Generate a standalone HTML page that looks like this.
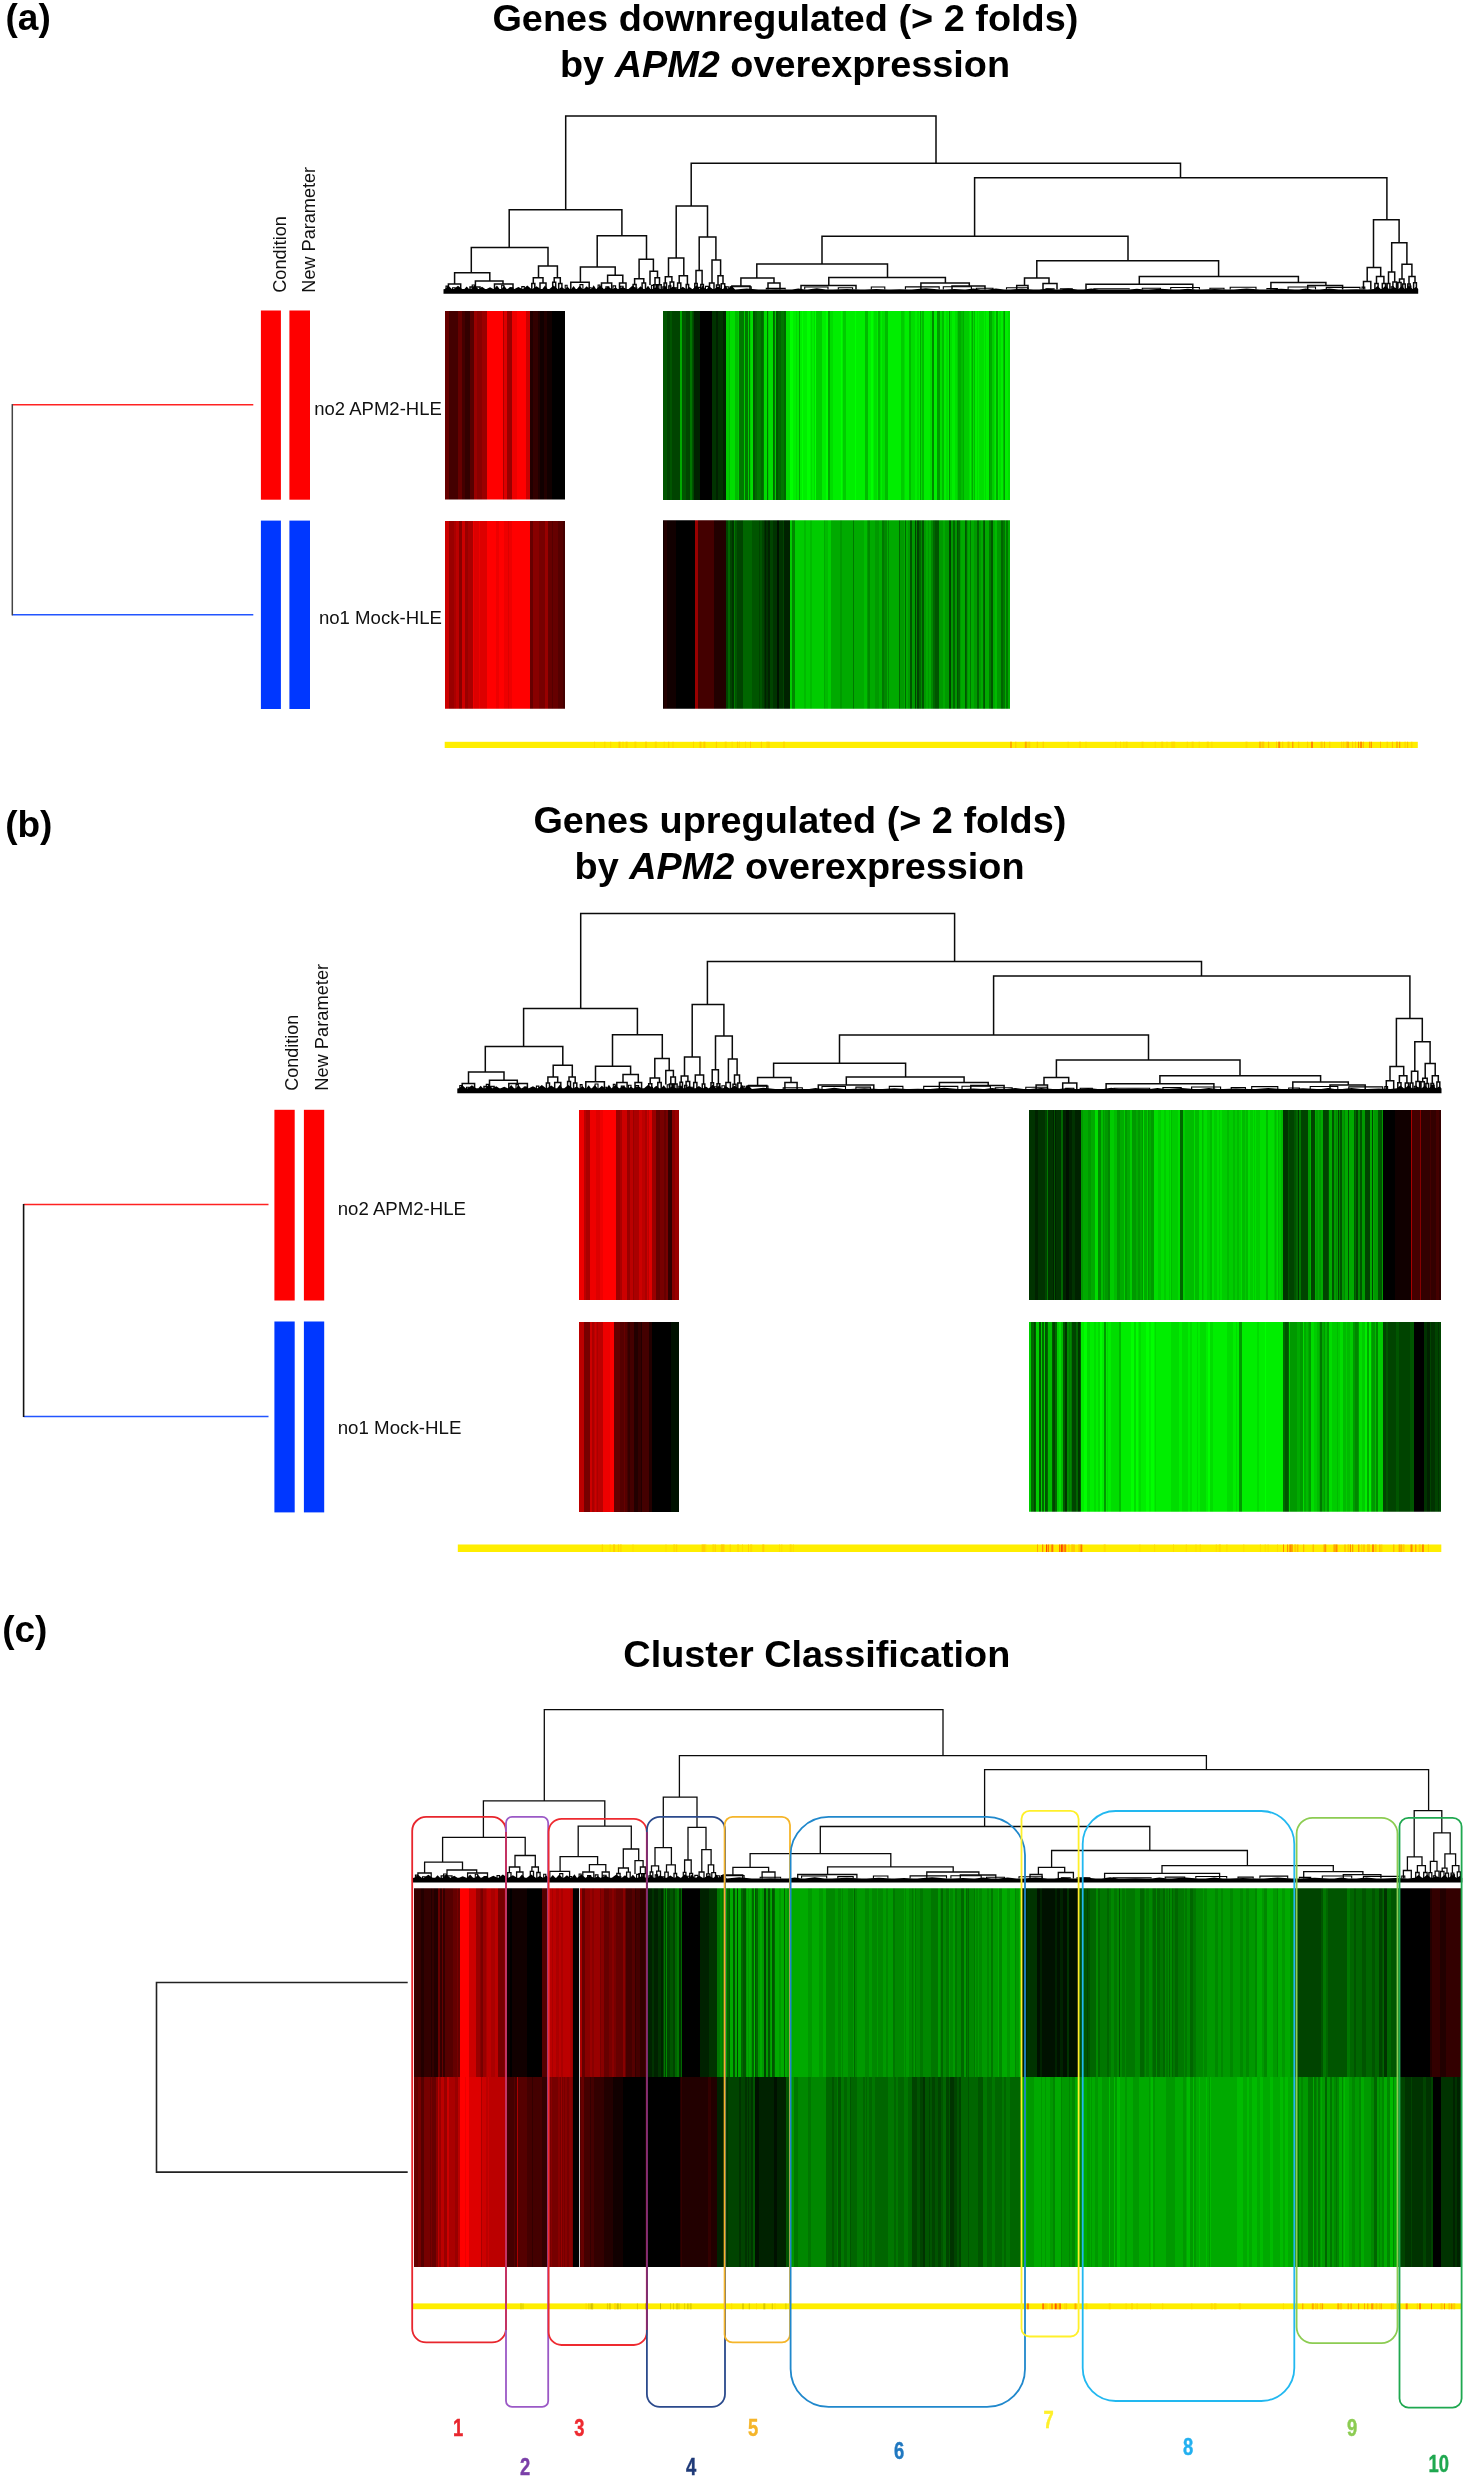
<!DOCTYPE html><html><head><meta charset="utf-8"><title>Figure</title><style>html,body{margin:0;padding:0;background:#fff}svg{display:block}#fig{filter:blur(0.45px)}text{font-family:"Liberation Sans",sans-serif}</style></head><body>
<svg id="fig" width="1466" height="2479" viewBox="0 0 1466 2479">
<rect width="1466" height="2479" fill="#fff"/>
<text x="785.4" y="31.0" font-size="37" font-weight="700" text-anchor="middle" fill="#000" textLength="586.0" lengthAdjust="spacingAndGlyphs">Genes downregulated (&gt; 2 folds)</text>
<text x="785.0" y="76.5" font-size="37" font-weight="700" text-anchor="middle" fill="#000" textLength="450.0" lengthAdjust="spacingAndGlyphs">by <tspan font-style="italic">APM2</tspan> overexpression</text>
<text x="799.9" y="833.0" font-size="37" font-weight="700" text-anchor="middle" fill="#000" textLength="533.0" lengthAdjust="spacingAndGlyphs">Genes upregulated (&gt; 2 folds)</text>
<text x="799.6" y="879.0" font-size="37" font-weight="700" text-anchor="middle" fill="#000" textLength="450.0" lengthAdjust="spacingAndGlyphs">by <tspan font-style="italic">APM2</tspan> overexpression</text>
<text x="816.8" y="1667.3" font-size="37" font-weight="700" text-anchor="middle" fill="#000" textLength="387.0" lengthAdjust="spacingAndGlyphs">Cluster Classification</text>
<text x="5.5" y="29.9" font-size="37" font-weight="700" fill="#000">(a)</text>
<text x="5.2" y="837.4" font-size="37" font-weight="700" fill="#000">(b)</text>
<text x="2.2" y="1641.6" font-size="37" font-weight="700" fill="#000">(c)</text>
<path d="M565.7 209.8V116.0H936.0V163.3M509.2 247.4V209.8H621.9V235.8M471.3 272.8V247.4H548.0V266.0M454.6 284.0V272.8H489.8V280.9M448.4 289.5V284.0H460.7V289.5M475.4 287.0V280.9H503.0V284.0M494.5 289.5V284.0H513.0V289.5M470.0 289.5V287.0H480.0V289.5M538.5 277.8V266.0H557.4V277.8M533.3 283.6V277.8H543.0V283.0M540.0 289.5V283.0H546.0V289.5M554.2 282.2V277.8H560.3V283.5M597.2 267.1V235.8H646.5V259.3M580.4 282.3V267.1H615.2V275.3M570.8 289.5V282.3H589.2V289.5M607.6 283.0V275.3H622.8V283.0M601.5 289.5V283.0H611.7V289.5M619.5 289.5V283.0H626.0V289.5M639.1 278.8V259.3H653.4V271.2M634.6 284.4V278.8H643.8V283.1M650.0 285.0V271.2H657.5V277.8M655.0 284.7V277.8H659.5V284.7M691.2 206.0V163.3H1180.5V177.8M676.2 258.0V206.0H707.5V237.0M668.5 276.7V258.0H683.8V275.7M665.3 282.9V276.7H671.9V282.1M679.2 283.0V275.7H687.4V284.5M699.2 270.6V237.0H715.9V260.0M696.0 283.4V270.6H702.1V284.4M712.0 283.0V260.0H720.6V275.7M718.0 284.9V275.7H723.0V283.7M709.5 289.5V283.0H714.0V289.5M974.6 236.2V177.8H1386.9V219.8M822.0 264.0V236.2H1128.0V260.8M756.8 278.1V264.0H887.5V277.6M740.9 286.0V278.1H774.0V283.0M732.0 289.5V286.0H750.0V289.5M768.0 289.5V283.0H780.0V289.5M828.8 285.5V277.6H945.4V283.0M801.0 289.5V285.5H856.0V289.5M920.9 289.5V283.0H969.3V286.0M952.0 289.5V286.0H985.0V289.5M1036.8 278.1V260.8H1218.6V276.5M1024.5 285.5V278.1H1049.0V283.5M1016.7 289.5V285.5H1028.0V289.5M1043.0 289.5V283.5H1057.0V289.5M1139.3 284.3V276.5H1298.4V282.6M1086.0 289.5V284.3H1192.8V289.5M1270.9 289.5V282.6H1325.9V285.6M1307.7 289.5V285.6H1342.6V289.5M1373.5 267.4V219.8H1399.1V242.8M1367.2 281.4V267.4H1380.7V276.5M1363.5 289.5V281.4H1370.8V289.5M1376.5 283.4V276.5H1383.9V283.5M1391.7 272.0V242.8H1406.9V264.2M1388.5 283.6V272.0H1394.7V282.0M1402.0 279.0V264.2H1411.9V276.5M1399.5 282.5V279.0H1404.0V284.1M1409.0 284.1V276.5H1415.0V282.7M531.8 289.5V283.6H534.8V289.5M552.7 289.5V282.2H555.7V289.5M558.7 289.5V283.5H561.9V289.5M633.1 289.5V284.4H636.1V289.5M642.1 289.5V283.1H645.5V289.5M653.6 289.5V284.7H656.4V289.5M657.8 289.5V284.7H661.2V289.5M664.1 289.5V282.9H666.5V289.5M670.1 289.5V282.1H673.7V289.5M677.6 289.5V283.0H680.8V289.5M686.2 289.5V284.5H688.6V289.5M694.8 289.5V283.4H697.2V289.5M700.8 289.5V284.4H703.4V289.5M716.5 289.5V284.9H719.5V289.5M721.3 289.5V283.7H724.7V289.5M1374.9 289.5V283.4H1378.1V289.5M1382.3 289.5V283.5H1385.5V289.5M1387.1 289.5V283.6H1389.9V289.5M1392.9 289.5V282.0H1396.5V289.5M1397.9 289.5V282.5H1401.1V289.5M1402.7 289.5V284.1H1405.3V289.5M1407.8 289.5V284.1H1410.2V289.5M1413.6 289.5V282.7H1416.4V289.5" fill="none" stroke="#0a0a0a" stroke-width="1.50" stroke-linejoin="miter"/>
<path d="M446.0 289.5V286.1H448.1V289.5M452.6 289.5V287.8H455.2V289.5M472.2 289.5V285.0H474.8V289.5M501.7 289.5V285.2H503.9V289.5M509.9 289.5V287.7H512.7V289.5M521.8 289.5V286.6H524.3V289.5M565.2 289.5V285.2H567.1V289.5M580.0 289.5V284.6H582.9V289.5M589.1 289.5V287.7H591.2V289.5M598.1 289.5V285.0H599.9V289.5M605.9 289.5V286.7H608.8V289.5M613.0 289.5V285.9H615.6V289.5M620.2 289.5V286.2H623.1V289.5M634.4 289.5V288.0H636.9V289.5M651.4 289.5V285.4H654.1V289.5M656.3 289.5V284.6H658.9V289.5M662.8 289.5V286.9H665.4V289.5M668.7 289.5V285.9H670.9V289.5M674.5 289.5V287.9H677.2V289.5M698.0 289.5V287.4H700.8V289.5M705.5 289.5V286.4H708.4V289.5M725.6 289.5V286.8H728.3V289.5M1362.0 289.5V287.1H1364.8V289.5M1391.2 289.5V286.8H1393.4V289.5M1408.0 289.5V286.0H1410.9V289.5M730.0 289.5V286.7H751.2V289.5M766.3 289.5V288.4H785.2V289.5M804.7 289.5V287.0H828.0V289.5M838.3 289.5V287.7H852.6V289.5M871.3 289.5V287.0H884.8V289.5M905.4 289.5V286.9H939.2V289.5M943.3 289.5V286.8H971.4V289.5M976.3 289.5V288.3H993.0V289.5M1006.5 289.5V287.8H1028.0V289.5M1046.0 289.5V288.9H1054.1V289.5M1060.4 289.5V288.8H1072.3V289.5M1093.9 289.5V288.8H1129.2V289.5M1142.3 289.5V288.2H1160.4V289.5M1170.7 289.5V287.5H1199.4V289.5M1209.9 289.5V288.2H1224.0V289.5M1230.2 289.5V287.2H1256.0V289.5M1266.9 289.5V288.6H1277.4V289.5M1288.1 289.5V287.0H1315.5V289.5M1326.3 289.5V287.4H1360.0V289.5" fill="none" stroke="#000" stroke-width="1.1"/>
<polygon points="443.5,289.2 445.0,288.9 448.4,285.8 451.9,288.9 453.9,288.9 458.0,285.8 462.1,288.9 464.4,288.9 466.7,286.4 469.0,288.9 471.3,288.9 474.8,285.5 478.3,288.9 478.9,288.9 482.0,286.8 485.2,288.9 486.6,288.9 490.0,287.3 493.3,288.9 494.1,288.9 496.9,285.5 499.6,288.9 501.6,288.9 504.1,285.7 506.7,288.9 507.3,288.9 510.7,287.0 514.1,288.9 514.4,288.9 518.4,286.9 522.3,288.9 523.1,288.9 527.3,285.6 531.4,288.9 532.4,288.9 536.5,286.2 540.6,288.9 542.4,288.9 545.0,285.4 547.6,288.9 549.4,288.9 553.6,285.5 557.7,288.9 558.7,288.9 561.6,287.0 564.5,288.9 565.1,288.9 567.5,286.7 569.8,288.9 571.4,288.9 573.6,285.9 575.8,288.9 576.9,288.9 579.7,285.7 582.5,288.9 583.9,288.9 586.7,286.3 589.5,288.9 591.4,288.9 593.7,285.3 596.0,288.9 596.4,288.9 600.1,285.6 603.8,288.9 604.1,288.9 607.9,286.6 611.7,288.9 613.2,288.9 615.4,287.2 617.7,288.9 618.4,288.9 622.5,286.9 626.6,288.9 628.5,288.9 632.6,285.4 636.7,288.9 637.7,288.9 640.6,286.3 643.5,288.9 645.5,288.9 648.0,285.8 650.4,288.9 652.4,288.9 656.4,287.2 660.3,288.9 662.7,288.9 665.0,286.6 667.4,288.9 669.1,288.9 673.1,286.6 677.1,288.9 679.5,288.9 682.8,286.7 686.0,288.9 687.0,288.9 689.6,287.1 692.2,288.9 692.8,288.9 696.4,285.3 699.9,288.9 700.6,288.9 702.9,285.3 705.2,288.9 706.7,288.9 709.7,286.8 712.7,288.9 714.3,288.9 718.1,286.4 722.0,288.9 723.2,288.9 725.5,285.5 727.8,288.9 728.2,288.9 731.4,285.6 734.6,288.9 735.2,289.6 746.8,288.4 758.4,289.6 763.8,289.6 775.9,289.3 787.9,289.6 792.0,289.6 798.3,288.5 804.7,289.6 807.7,289.6 816.8,288.3 825.9,289.6 832.9,289.6 846.6,288.9 860.4,289.6 864.8,289.6 876.4,288.9 888.0,289.6 891.0,289.6 899.7,289.2 908.3,289.6 911.9,289.6 925.8,288.3 939.7,289.6 945.1,289.6 954.6,289.0 964.1,289.6 965.7,289.6 973.2,288.5 980.6,289.6 987.7,289.6 995.9,288.5 1004.2,289.6 1010.6,289.6 1021.9,288.7 1033.1,289.6 1039.4,289.6 1047.7,288.6 1056.0,289.6 1058.9,289.6 1068.3,288.6 1077.7,289.6 1083.5,289.6 1091.2,288.4 1098.8,289.6 1104.4,289.6 1114.6,289.4 1124.8,289.6 1129.6,289.6 1136.9,288.7 1144.2,289.6 1148.4,289.6 1160.7,288.7 1173.1,289.6 1179.7,289.6 1187.8,288.7 1195.9,289.6 1202.1,289.6 1214.6,289.0 1227.0,289.6 1233.9,289.6 1246.7,288.6 1259.6,289.6 1267.4,289.6 1281.0,288.8 1294.6,289.6 1299.3,289.6 1305.8,288.5 1312.3,289.6 1319.9,289.6 1329.2,288.6 1338.5,289.6 1344.5,289.6 1356.1,289.2 1367.7,289.6 1374.1,288.9 1377.5,286.0 1380.8,288.9 1382.1,288.9 1385.5,285.8 1389.0,288.9 1390.7,288.9 1394.3,287.2 1397.9,288.9 1398.6,288.9 1401.7,286.0 1404.8,288.9 1405.5,288.9 1409.1,286.0 1412.7,288.9 1413.1,288.9 1416.2,286.8 1418.2,289.0 1418.2,293.8 443.5,293.8" fill="#000"/>
<rect x="260.9" y="310.5" width="20.0" height="189.2" fill="#fe0000"/>
<rect x="260.9" y="520.6" width="20.0" height="188.4" fill="#0037ff"/>
<rect x="289.4" y="310.5" width="20.6" height="189.2" fill="#fe0000"/>
<rect x="289.4" y="520.6" width="20.6" height="188.4" fill="#0037ff"/>
<path d="M253.3 404.7H12.3" stroke="#f22" stroke-width="1.5" fill="none"/>
<path d="M253.3 614.8H12.3" stroke="#2255ff" stroke-width="1.5" fill="none"/>
<path d="M12.3 404.1V615.4" stroke="#444" stroke-width="1.5" fill="none"/>
<text transform="translate(286.2 292.7) rotate(-90)" font-size="18" fill="#111" textLength="76.5" lengthAdjust="spacingAndGlyphs">Condition</text>
<text transform="translate(314.5 292.7) rotate(-90)" font-size="18" fill="#111" textLength="125.8" lengthAdjust="spacingAndGlyphs">New Parameter</text>
<text x="314.3" y="415.2" font-size="18" fill="#111" textLength="127.5" lengthAdjust="spacingAndGlyphs">no2 APM2-HLE</text>
<text x="318.9" y="624.0" font-size="18" fill="#111" textLength="123.0" lengthAdjust="spacingAndGlyphs">no1 Mock-HLE</text>
<svg x="445" y="310.5" width="120" height="189.1" viewBox="0 0 120 1" preserveAspectRatio="none" shape-rendering="crispEdges">
<path fill="#600" d="M0 0h2v1h-2zM2 0h2v1h-2zM13 0h2v1h-2zM15 0h2v1h-2z"/>
<path fill="#400" d="M4 0h2v1h-2zM6 0h1v1h-1zM7 0h3v1h-3zM10 0h2v1h-2zM12 0h1v1h-1zM17 0h3v1h-3z"/>
<path fill="#300" d="M20 0h3v1h-3zM23 0h1v1h-1zM24 0h1v1h-1zM88 0h2v1h-2zM90 0h1v1h-1zM91 0h2v1h-2z"/>
<path fill="#500" d="M25 0h2v1h-2zM27 0h2v1h-2z"/>
<path fill="#900" d="M29 0h1v1h-1zM30 0h2v1h-2zM37 0h2v1h-2zM39 0h3v1h-3zM62 0h3v1h-3zM65 0h2v1h-2z"/>
<path fill="#800" d="M32 0h1v1h-1zM33 0h2v1h-2zM35 0h2v1h-2z"/>
<path fill="#f00" d="M42 0h4v1h-4zM46 0h4v1h-4zM50 0h3v1h-3zM53 0h2v1h-2zM55 0h2v1h-2zM57 0h1v1h-1zM72 0h2v1h-2zM74 0h1v1h-1zM75 0h2v1h-2zM77 0h2v1h-2zM79 0h1v1h-1zM80 0h1v1h-1z"/>
<path fill="#a00" d="M58 0h1v1h-1z"/>
<path fill="#d00" d="M59 0h2v1h-2zM61 0h1v1h-1z"/>
<path fill="#e00" d="M67 0h1v1h-1zM68 0h3v1h-3zM71 0h1v1h-1z"/>
<path fill="#c00" d="M81 0h1v1h-1zM82 0h1v1h-1zM83 0h1v1h-1zM84 0h1v1h-1z"/>
<path fill="#200" d="M85 0h1v1h-1zM86 0h2v1h-2zM93 0h2v1h-2zM99 0h3v1h-3z"/>
<path fill="#100" d="M95 0h3v1h-3zM98 0h1v1h-1zM102 0h1v1h-1zM103 0h2v1h-2zM105 0h2v1h-2z"/>
<path fill="#000" d="M107 0h2v1h-2zM109 0h3v1h-3zM112 0h2v1h-2zM114 0h1v1h-1zM115 0h3v1h-3zM118 0h2v1h-2z"/>
</svg>
<svg x="445" y="520.5" width="120" height="188.3" viewBox="0 0 120 1" preserveAspectRatio="none" shape-rendering="crispEdges">
<path fill="#c00" d="M0 0h2v1h-2zM2 0h2v1h-2zM17 0h1v1h-1zM18 0h2v1h-2z"/>
<path fill="#900" d="M4 0h3v1h-3zM7 0h2v1h-2zM20 0h3v1h-3zM100 0h2v1h-2zM102 0h1v1h-1z"/>
<path fill="#a00" d="M9 0h2v1h-2zM23 0h1v1h-1zM24 0h3v1h-3zM27 0h1v1h-1z"/>
<path fill="#b00" d="M11 0h3v1h-3z"/>
<path fill="#800" d="M14 0h1v1h-1zM15 0h2v1h-2zM88 0h2v1h-2zM90 0h1v1h-1zM91 0h3v1h-3z"/>
<path fill="#e00" d="M28 0h1v1h-1zM34 0h1v1h-1zM51 0h3v1h-3zM59 0h2v1h-2zM61 0h1v1h-1zM62 0h1v1h-1zM64 0h2v1h-2zM66 0h1v1h-1z"/>
<path fill="#d00" d="M29 0h3v1h-3zM32 0h2v1h-2zM35 0h3v1h-3zM38 0h1v1h-1zM39 0h1v1h-1zM40 0h2v1h-2zM63 0h1v1h-1z"/>
<path fill="#f00" d="M42 0h4v1h-4zM46 0h2v1h-2zM48 0h3v1h-3zM54 0h3v1h-3zM57 0h2v1h-2zM67 0h3v1h-3zM70 0h3v1h-3zM73 0h3v1h-3zM76 0h2v1h-2zM78 0h4v1h-4zM82 0h3v1h-3z"/>
<path fill="#600" d="M85 0h3v1h-3zM103 0h3v1h-3zM106 0h1v1h-1zM108 0h3v1h-3zM111 0h1v1h-1zM112 0h1v1h-1z"/>
<path fill="#700" d="M94 0h1v1h-1zM95 0h2v1h-2zM97 0h3v1h-3z"/>
<path fill="#500" d="M107 0h1v1h-1zM113 0h1v1h-1zM114 0h1v1h-1zM115 0h1v1h-1zM116 0h2v1h-2z"/>
<path fill="#400" d="M118 0h2v1h-2z"/>
</svg>
<svg x="663" y="310.5" width="347" height="189.4" viewBox="0 0 347 1" preserveAspectRatio="none" shape-rendering="crispEdges">
<path fill="#050" d="M0 0h2v1h-2zM2 0h2v1h-2zM7 0h2v1h-2zM19 0h2v1h-2zM21 0h2v1h-2zM29 0h1v1h-1zM90 0h2v1h-2zM113 0h2v1h-2z"/>
<path fill="#040" d="M4 0h1v1h-1zM5 0h1v1h-1zM6 0h1v1h-1zM9 0h1v1h-1zM10 0h1v1h-1zM11 0h2v1h-2zM13 0h1v1h-1zM14 0h1v1h-1zM15 0h2v1h-2zM23 0h1v1h-1zM24 0h1v1h-1zM25 0h2v1h-2zM30 0h1v1h-1z"/>
<path fill="#0a0" d="M17 0h2v1h-2zM136 0h1v1h-1zM165 0h2v1h-2zM257 0h1v1h-1zM295 0h3v1h-3zM300 0h1v1h-1zM309 0h1v1h-1zM327 0h2v1h-2zM333 0h2v1h-2z"/>
<path fill="#070" d="M27 0h2v1h-2zM76 0h3v1h-3zM79 0h2v1h-2zM82 0h3v1h-3zM86 0h1v1h-1zM94 0h1v1h-1zM95 0h3v1h-3zM100 0h1v1h-1zM104 0h1v1h-1zM111 0h1v1h-1zM118 0h3v1h-3z"/>
<path fill="#020" d="M31 0h3v1h-3zM34 0h2v1h-2zM36 0h1v1h-1zM53 0h2v1h-2zM60 0h1v1h-1zM61 0h1v1h-1zM62 0h1v1h-1z"/>
<path fill="#000" d="M37 0h1v1h-1zM38 0h3v1h-3zM41 0h2v1h-2zM43 0h1v1h-1zM44 0h1v1h-1zM45 0h1v1h-1zM46 0h2v1h-2zM48 0h1v1h-1z"/>
<path fill="#030" d="M49 0h2v1h-2zM51 0h2v1h-2zM55 0h2v1h-2zM57 0h3v1h-3z"/>
<path fill="#0c0" d="M63 0h3v1h-3zM75 0h1v1h-1zM81 0h1v1h-1zM85 0h1v1h-1zM87 0h1v1h-1zM105 0h1v1h-1zM112 0h1v1h-1zM153 0h3v1h-3zM156 0h3v1h-3zM180 0h3v1h-3zM238 0h3v1h-3zM294 0h1v1h-1zM301 0h3v1h-3zM304 0h2v1h-2zM308 0h1v1h-1zM329 0h2v1h-2z"/>
<path fill="#0b0" d="M66 0h1v1h-1zM72 0h3v1h-3zM202 0h3v1h-3zM215 0h2v1h-2zM222 0h3v1h-3zM246 0h2v1h-2zM259 0h2v1h-2zM279 0h2v1h-2zM298 0h1v1h-1zM299 0h1v1h-1zM311 0h1v1h-1zM340 0h1v1h-1z"/>
<path fill="#0d0" d="M67 0h3v1h-3zM70 0h2v1h-2zM88 0h2v1h-2zM101 0h3v1h-3zM106 0h3v1h-3zM109 0h1v1h-1zM123 0h3v1h-3zM126 0h1v1h-1zM133 0h1v1h-1zM148 0h1v1h-1zM151 0h1v1h-1zM167 0h3v1h-3zM211 0h3v1h-3zM217 0h1v1h-1zM219 0h3v1h-3zM241 0h1v1h-1zM248 0h2v1h-2zM250 0h2v1h-2zM254 0h2v1h-2zM258 0h1v1h-1zM267 0h2v1h-2zM277 0h2v1h-2zM283 0h2v1h-2zM287 0h2v1h-2zM292 0h2v1h-2zM306 0h1v1h-1zM310 0h1v1h-1zM314 0h1v1h-1zM316 0h1v1h-1zM317 0h1v1h-1zM318 0h2v1h-2zM320 0h1v1h-1zM322 0h1v1h-1zM331 0h1v1h-1zM336 0h2v1h-2zM345 0h1v1h-1zM346 0h1v1h-1z"/>
<path fill="#060" d="M92 0h2v1h-2zM98 0h1v1h-1zM99 0h1v1h-1zM110 0h1v1h-1zM115 0h3v1h-3zM121 0h1v1h-1zM122 0h1v1h-1z"/>
<path fill="#0f0" d="M127 0h3v1h-3zM139 0h1v1h-1zM144 0h3v1h-3zM152 0h1v1h-1zM163 0h2v1h-2zM178 0h1v1h-1zM192 0h1v1h-1zM208 0h2v1h-2z"/>
<path fill="#0e0" d="M130 0h3v1h-3zM134 0h2v1h-2zM137 0h2v1h-2zM140 0h2v1h-2zM142 0h2v1h-2zM147 0h1v1h-1zM149 0h2v1h-2zM159 0h3v1h-3zM162 0h1v1h-1zM170 0h2v1h-2zM172 0h3v1h-3zM175 0h3v1h-3zM179 0h1v1h-1zM183 0h1v1h-1zM184 0h1v1h-1zM185 0h3v1h-3zM188 0h2v1h-2zM190 0h2v1h-2zM193 0h2v1h-2zM195 0h1v1h-1zM196 0h1v1h-1zM197 0h2v1h-2zM199 0h3v1h-3zM205 0h1v1h-1zM206 0h2v1h-2zM210 0h1v1h-1zM214 0h1v1h-1zM218 0h1v1h-1zM225 0h3v1h-3zM228 0h3v1h-3zM231 0h2v1h-2zM233 0h2v1h-2zM235 0h3v1h-3zM242 0h2v1h-2zM244 0h2v1h-2zM252 0h1v1h-1zM253 0h1v1h-1zM256 0h1v1h-1zM261 0h1v1h-1zM262 0h2v1h-2zM264 0h1v1h-1zM265 0h2v1h-2zM271 0h1v1h-1zM272 0h2v1h-2zM281 0h2v1h-2zM285 0h1v1h-1zM289 0h1v1h-1zM290 0h2v1h-2zM307 0h1v1h-1zM312 0h2v1h-2zM315 0h1v1h-1zM321 0h1v1h-1zM323 0h2v1h-2zM325 0h1v1h-1zM332 0h1v1h-1zM335 0h1v1h-1zM338 0h2v1h-2zM342 0h2v1h-2zM344 0h1v1h-1z"/>
<path fill="#080" d="M269 0h2v1h-2z"/>
<path fill="#090" d="M274 0h1v1h-1zM275 0h2v1h-2zM286 0h1v1h-1zM326 0h1v1h-1zM341 0h1v1h-1z"/>
</svg>
<svg x="663" y="520.3" width="347" height="188.5" viewBox="0 0 347 1" preserveAspectRatio="none" shape-rendering="crispEdges">
<path fill="#100" d="M0 0h1v1h-1zM4 0h2v1h-2zM6 0h2v1h-2zM8 0h1v1h-1zM9 0h2v1h-2zM11 0h2v1h-2z"/>
<path fill="#200" d="M1 0h3v1h-3zM51 0h1v1h-1zM52 0h2v1h-2zM54 0h1v1h-1zM55 0h1v1h-1zM56 0h2v1h-2zM58 0h1v1h-1zM59 0h2v1h-2zM61 0h1v1h-1zM62 0h1v1h-1z"/>
<path fill="#000" d="M13 0h3v1h-3zM16 0h3v1h-3zM19 0h3v1h-3zM22 0h2v1h-2zM24 0h1v1h-1zM25 0h1v1h-1zM26 0h3v1h-3zM29 0h1v1h-1zM30 0h1v1h-1zM31 0h1v1h-1z"/>
<path fill="#900" d="M32 0h2v1h-2zM34 0h1v1h-1z"/>
<path fill="#400" d="M35 0h1v1h-1zM36 0h2v1h-2zM38 0h2v1h-2zM40 0h1v1h-1zM41 0h2v1h-2zM43 0h3v1h-3zM46 0h3v1h-3zM49 0h2v1h-2z"/>
<path fill="#040" d="M63 0h2v1h-2zM67 0h2v1h-2zM74 0h2v1h-2zM76 0h1v1h-1zM77 0h3v1h-3zM96 0h1v1h-1zM99 0h1v1h-1zM100 0h1v1h-1zM107 0h3v1h-3zM120 0h1v1h-1zM252 0h1v1h-1zM254 0h2v1h-2zM286 0h2v1h-2z"/>
<path fill="#060" d="M65 0h2v1h-2zM80 0h3v1h-3zM83 0h3v1h-3zM86 0h3v1h-3zM236 0h1v1h-1zM242 0h1v1h-1zM256 0h2v1h-2zM270 0h2v1h-2zM290 0h2v1h-2zM295 0h1v1h-1zM296 0h1v1h-1zM303 0h1v1h-1zM314 0h2v1h-2zM320 0h1v1h-1zM338 0h2v1h-2z"/>
<path fill="#030" d="M69 0h2v1h-2zM101 0h1v1h-1zM103 0h2v1h-2zM110 0h3v1h-3zM113 0h1v1h-1zM116 0h3v1h-3zM119 0h1v1h-1z"/>
<path fill="#070" d="M71 0h1v1h-1zM190 0h1v1h-1zM219 0h2v1h-2zM307 0h1v1h-1zM326 0h2v1h-2zM340 0h2v1h-2zM343 0h2v1h-2z"/>
<path fill="#050" d="M72 0h2v1h-2zM89 0h1v1h-1zM90 0h2v1h-2zM92 0h2v1h-2zM94 0h2v1h-2zM97 0h2v1h-2zM247 0h2v1h-2zM259 0h2v1h-2zM272 0h1v1h-1zM273 0h1v1h-1zM274 0h2v1h-2zM294 0h1v1h-1zM302 0h1v1h-1zM321 0h1v1h-1zM328 0h2v1h-2z"/>
<path fill="#020" d="M102 0h1v1h-1zM105 0h1v1h-1zM106 0h1v1h-1zM121 0h1v1h-1zM122 0h2v1h-2zM124 0h3v1h-3z"/>
<path fill="#010" d="M114 0h2v1h-2z"/>
<path fill="#0c0" d="M127 0h2v1h-2zM132 0h2v1h-2zM134 0h1v1h-1zM135 0h3v1h-3zM138 0h1v1h-1zM139 0h2v1h-2zM143 0h3v1h-3zM146 0h1v1h-1zM149 0h2v1h-2zM151 0h3v1h-3zM154 0h2v1h-2zM156 0h2v1h-2zM158 0h2v1h-2zM160 0h1v1h-1zM165 0h3v1h-3z"/>
<path fill="#080" d="M129 0h3v1h-3zM205 0h2v1h-2zM221 0h3v1h-3zM225 0h1v1h-1zM253 0h1v1h-1zM258 0h1v1h-1zM268 0h2v1h-2z"/>
<path fill="#0b0" d="M141 0h2v1h-2zM147 0h2v1h-2zM162 0h3v1h-3zM201 0h3v1h-3zM332 0h2v1h-2z"/>
<path fill="#0a0" d="M161 0h1v1h-1zM168 0h2v1h-2zM170 0h1v1h-1zM171 0h1v1h-1zM172 0h1v1h-1zM173 0h2v1h-2zM175 0h2v1h-2zM179 0h2v1h-2zM181 0h2v1h-2zM183 0h1v1h-1zM184 0h3v1h-3zM187 0h2v1h-2zM189 0h1v1h-1zM191 0h3v1h-3zM194 0h2v1h-2zM196 0h2v1h-2zM198 0h3v1h-3zM207 0h1v1h-1zM208 0h2v1h-2zM210 0h2v1h-2zM216 0h3v1h-3zM224 0h1v1h-1zM226 0h2v1h-2zM228 0h3v1h-3zM231 0h2v1h-2zM233 0h2v1h-2zM235 0h1v1h-1zM241 0h1v1h-1zM243 0h2v1h-2zM263 0h2v1h-2zM266 0h2v1h-2zM280 0h2v1h-2zM298 0h1v1h-1zM299 0h2v1h-2zM301 0h1v1h-1zM305 0h2v1h-2zM308 0h2v1h-2zM310 0h1v1h-1zM318 0h2v1h-2zM322 0h1v1h-1zM323 0h1v1h-1zM324 0h2v1h-2zM330 0h2v1h-2zM342 0h1v1h-1zM345 0h2v1h-2z"/>
<path fill="#090" d="M177 0h2v1h-2zM204 0h1v1h-1zM212 0h3v1h-3zM215 0h1v1h-1zM237 0h2v1h-2zM239 0h2v1h-2zM245 0h2v1h-2zM249 0h1v1h-1zM250 0h2v1h-2zM261 0h1v1h-1zM262 0h1v1h-1zM265 0h1v1h-1zM276 0h2v1h-2zM278 0h1v1h-1zM279 0h1v1h-1zM282 0h2v1h-2zM284 0h2v1h-2zM288 0h2v1h-2zM292 0h1v1h-1zM293 0h1v1h-1zM297 0h1v1h-1zM304 0h1v1h-1zM311 0h2v1h-2zM313 0h1v1h-1zM316 0h2v1h-2zM334 0h2v1h-2zM336 0h2v1h-2z"/>
</svg>
<rect x="444.7" y="741.8" width="973.1" height="6.2" fill="#ffee00"/>
<path fill="#ffdd00" d="M594.0 741.8h1v6.2h-1zM634.4 741.8h2v6.2h-2zM654.8 741.8h2v6.2h-2zM663.7 741.8h1v6.2h-1zM724.7 741.8h2v6.2h-2zM731.6 741.8h1v6.2h-1zM745.0 741.8h1v6.2h-1zM766.4 741.8h2v6.2h-2zM783.0 741.8h2v6.2h-2zM1067.6 741.8h1v6.2h-1zM1079.0 741.8h2v6.2h-2zM1085.5 741.8h1v6.2h-1zM1115.3 741.8h1v6.2h-1zM1120.0 741.8h1v6.2h-1zM1123.4 741.8h1v6.2h-1zM1125.6 741.8h2v6.2h-2zM1141.5 741.8h2v6.2h-2zM1154.7 741.8h1v6.2h-1zM1161.2 741.8h2v6.2h-2zM1166.5 741.8h1v6.2h-1zM1171.2 741.8h2v6.2h-2zM1173.2 741.8h2v6.2h-2zM1186.8 741.8h1v6.2h-1zM1191.6 741.8h2v6.2h-2zM1198.7 741.8h1v6.2h-1zM1206.8 741.8h2v6.2h-2zM1211.4 741.8h1v6.2h-1zM1245.5 741.8h2v6.2h-2z"/>
<path fill="#ffd800" d="M604.3 741.8h1v6.2h-1zM610.2 741.8h1v6.2h-1zM622.5 741.8h1v6.2h-1zM625.6 741.8h2v6.2h-2zM645.0 741.8h2v6.2h-2zM672.5 741.8h1v6.2h-1zM693.0 741.8h1v6.2h-1zM738.9 741.8h1v6.2h-1z"/>
<path fill="#ffcc00" d="M618.5 741.8h2v6.2h-2zM668.2 741.8h1v6.2h-1zM699.5 741.8h2v6.2h-2zM703.4 741.8h2v6.2h-2zM715.9 741.8h1v6.2h-1zM737.1 741.8h1v6.2h-1zM750.0 741.8h1v6.2h-1zM760.9 741.8h1v6.2h-1zM768.5 741.8h1v6.2h-1zM1015.3 741.8h1v6.2h-1zM1027.6 741.8h1v6.2h-1zM1029.2 741.8h1v6.2h-1zM1036.8 741.8h1v6.2h-1zM1042.7 741.8h1v6.2h-1zM1261.4 741.8h2v6.2h-2zM1263.3 741.8h1v6.2h-1zM1276.0 741.8h1v6.2h-1zM1282.2 741.8h1v6.2h-1zM1287.5 741.8h2v6.2h-2zM1298.2 741.8h1v6.2h-1zM1307.1 741.8h1v6.2h-1zM1320.6 741.8h2v6.2h-2zM1329.3 741.8h1v6.2h-1zM1341.2 741.8h1v6.2h-1zM1343.3 741.8h1v6.2h-1zM1345.7 741.8h2v6.2h-2zM1352.1 741.8h1v6.2h-1zM1355.0 741.8h1v6.2h-1zM1386.7 741.8h1v6.2h-1zM1404.6 741.8h1v6.2h-1zM1411.3 741.8h1v6.2h-1z"/>
<path fill="#ffaa00" d="M1010.0 741.8h2v6.2h-2zM1024.8 741.8h2v6.2h-2z"/>
<path fill="#ffbb00" d="M1259.0 741.8h2v6.2h-2zM1268.1 741.8h1v6.2h-1zM1324.0 741.8h1v6.2h-1zM1362.9 741.8h1v6.2h-1zM1380.0 741.8h1v6.2h-1zM1391.9 741.8h1v6.2h-1zM1396.0 741.8h2v6.2h-2zM1407.1 741.8h1v6.2h-1z"/>
<path fill="#ff8800" d="M1278.2 741.8h2v6.2h-2zM1292.3 741.8h1v6.2h-1zM1311.0 741.8h2v6.2h-2zM1347.6 741.8h1v6.2h-1zM1358.1 741.8h1v6.2h-1zM1360.1 741.8h2v6.2h-2zM1369.3 741.8h1v6.2h-1zM1370.9 741.8h1v6.2h-1zM1399.2 741.8h1v6.2h-1z"/>
<path d="M580.7 1008.4V913.6H954.6V961.4M523.6 1046.4V1008.4H637.4V1034.7M485.3 1072.1V1046.4H562.8V1065.2M468.5 1083.4V1072.1H504.0V1080.2M462.2 1088.9V1083.4H474.6V1088.9M489.5 1086.4V1080.2H517.3V1083.4M508.8 1088.9V1083.4H527.4V1088.9M484.0 1088.9V1086.4H494.1V1088.9M553.2 1077.1V1065.2H572.3V1077.1M547.9 1083.0V1077.1H557.7V1082.4M554.7 1088.9V1082.4H560.8V1088.9M569.0 1081.6V1077.1H575.2V1082.9M612.5 1066.3V1034.7H662.3V1058.4M595.5 1081.7V1066.3H630.6V1074.6M585.8 1088.9V1081.7H604.4V1088.9M623.0 1082.4V1074.6H638.3V1082.4M616.8 1088.9V1082.4H627.1V1088.9M635.0 1088.9V1082.4H641.6V1088.9M654.8 1078.1V1058.4H669.2V1070.4M650.2 1083.8V1078.1H659.5V1082.5M665.8 1084.4V1070.4H673.4V1077.1M670.8 1084.1V1077.1H675.4V1084.1M707.4 1004.6V961.4H1201.5V976.1M692.2 1057.1V1004.6H723.9V1035.9M684.5 1076.0V1057.1H699.9V1075.0M681.2 1082.3V1076.0H687.9V1081.4M695.3 1082.4V1075.0H703.6V1083.9M715.5 1069.8V1035.9H732.3V1059.1M712.2 1082.8V1069.8H718.4V1083.8M728.4 1082.4V1059.1H737.1V1075.0M734.5 1084.3V1075.0H739.5V1083.1M725.9 1088.9V1082.4H730.4V1088.9M993.6 1035.1V976.1H1409.9V1018.5M839.5 1063.2V1035.1H1148.5V1059.9M773.6 1077.4V1063.2H905.6V1076.9M757.6 1085.4V1077.4H791.0V1082.4M748.6 1088.9V1085.4H766.8V1088.9M784.9 1088.9V1082.4H797.1V1088.9M846.3 1084.9V1076.9H964.1V1082.4M818.3 1088.9V1084.9H873.8V1088.9M939.4 1088.9V1082.4H988.2V1085.4M970.8 1088.9V1085.4H1004.1V1088.9M1056.4 1077.4V1059.9H1240.0V1075.8M1044.0 1084.9V1077.4H1068.7V1082.9M1036.1 1088.9V1084.9H1047.5V1088.9M1062.7 1088.9V1082.9H1076.8V1088.9M1159.9 1083.7V1075.8H1320.6V1082.0M1106.1 1088.9V1083.7H1213.9V1088.9M1292.8 1088.9V1082.0H1348.3V1085.0M1330.0 1088.9V1085.0H1365.2V1088.9M1396.4 1066.6V1018.5H1422.3V1041.7M1390.0 1080.8V1066.6H1403.7V1075.8M1386.3 1088.9V1080.8H1393.7V1088.9M1399.4 1082.8V1075.8H1406.9V1082.9M1414.8 1071.3V1041.7H1430.1V1063.4M1411.5 1083.0V1071.3H1417.8V1081.4M1425.2 1078.3V1063.4H1435.2V1075.8M1422.7 1081.8V1078.3H1427.2V1083.4M1432.3 1083.5V1075.8H1438.3V1082.1M546.4 1088.9V1083.0H549.5V1088.9M567.6 1088.9V1081.6H570.5V1088.9M573.6 1088.9V1082.9H576.8V1088.9M648.7 1088.9V1083.8H651.8V1088.9M657.8 1088.9V1082.5H661.2V1088.9M669.4 1088.9V1084.1H672.2V1088.9M673.7 1088.9V1084.1H677.1V1088.9M680.0 1088.9V1082.3H682.5V1088.9M686.1 1088.9V1081.4H689.7V1088.9M693.7 1088.9V1082.4H696.9V1088.9M702.3 1088.9V1083.9H704.8V1088.9M711.0 1088.9V1082.8H713.5V1088.9M717.0 1088.9V1083.8H719.8V1088.9M733.0 1088.9V1084.3H736.0V1088.9M737.8 1088.9V1083.1H741.2V1088.9M1397.8 1088.9V1082.8H1401.0V1088.9M1405.3 1088.9V1082.9H1408.5V1088.9M1410.2 1088.9V1083.0H1412.9V1088.9M1416.0 1088.9V1081.4H1419.6V1088.9M1421.0 1088.9V1081.8H1424.3V1088.9M1425.9 1088.9V1083.4H1428.6V1088.9M1431.0 1088.9V1083.5H1433.5V1088.9M1436.9 1088.9V1082.1H1439.8V1088.9" fill="none" stroke="#0a0a0a" stroke-width="1.50" stroke-linejoin="miter"/>
<path d="M459.8 1088.9V1085.5H461.9V1088.9M466.5 1088.9V1087.2H469.0V1088.9M486.3 1088.9V1084.4H488.8V1088.9M516.0 1088.9V1084.6H518.3V1088.9M524.3 1088.9V1087.1H527.2V1088.9M536.4 1088.9V1086.1H538.8V1088.9M580.2 1088.9V1084.6H582.1V1088.9M595.1 1088.9V1084.0H598.0V1088.9M604.3 1088.9V1087.2H606.5V1088.9M613.3 1088.9V1084.4H615.2V1088.9M621.3 1088.9V1086.1H624.2V1088.9M628.4 1088.9V1085.3H631.0V1088.9M635.7 1088.9V1085.6H638.6V1088.9M650.0 1088.9V1087.4H652.5V1088.9M667.2 1088.9V1084.8H669.9V1088.9M672.2 1088.9V1084.0H674.8V1088.9M678.8 1088.9V1086.3H681.3V1088.9M684.6 1088.9V1085.3H686.9V1088.9M690.5 1088.9V1087.3H693.3V1088.9M714.2 1088.9V1086.8H717.1V1088.9M721.9 1088.9V1085.8H724.7V1088.9M742.1 1088.9V1086.2H744.9V1088.9M1384.8 1088.9V1086.5H1387.6V1088.9M1414.3 1088.9V1086.2H1416.5V1088.9M1431.3 1088.9V1085.4H1434.2V1088.9M746.6 1088.9V1086.1H768.0V1088.9M783.2 1088.9V1087.8H802.3V1088.9M822.0 1088.9V1086.5H845.5V1088.9M855.9 1088.9V1087.1H870.4V1088.9M889.3 1088.9V1086.4H902.9V1088.9M923.7 1088.9V1086.4H957.8V1088.9M962.0 1088.9V1086.3H990.4V1088.9M995.3 1088.9V1087.8H1012.2V1088.9M1025.8 1088.9V1087.2H1047.5V1088.9M1065.7 1088.9V1088.3H1073.8V1088.9M1080.2 1088.9V1088.3H1092.3V1088.9M1114.0 1088.9V1088.2H1149.7V1088.9M1162.9 1088.9V1087.6H1181.2V1088.9M1191.6 1088.9V1087.0H1220.6V1088.9M1231.2 1088.9V1087.6H1245.4V1088.9M1251.7 1088.9V1086.6H1277.8V1088.9M1288.7 1088.9V1088.0H1299.4V1088.9M1310.2 1088.9V1086.5H1337.8V1088.9M1348.8 1088.9V1086.9H1382.7V1088.9" fill="none" stroke="#000" stroke-width="1.1"/>
<polygon points="457.3,1088.6 458.8,1088.3 462.3,1085.2 465.7,1088.3 467.8,1088.3 471.9,1085.2 476.1,1088.3 478.4,1088.3 480.7,1085.8 483.0,1088.3 485.4,1088.3 488.9,1084.9 492.4,1088.3 493.0,1088.3 496.2,1086.2 499.3,1088.3 500.8,1088.3 504.2,1086.7 507.6,1088.3 508.4,1088.3 511.2,1084.9 514.0,1088.3 516.0,1088.3 518.5,1085.1 521.0,1088.3 521.7,1088.3 525.1,1086.5 528.6,1088.3 528.9,1088.3 532.9,1086.3 536.9,1088.3 537.6,1088.3 541.8,1085.0 546.1,1088.3 547.0,1088.3 551.2,1085.6 555.3,1088.3 557.1,1088.3 559.8,1084.8 562.4,1088.3 564.2,1088.3 568.4,1084.9 572.6,1088.3 573.6,1088.3 576.5,1086.4 579.5,1088.3 580.1,1088.3 582.4,1086.1 584.8,1088.3 586.4,1088.3 588.7,1085.3 590.9,1088.3 591.9,1088.3 594.8,1085.1 597.6,1088.3 599.0,1088.3 601.9,1085.7 604.7,1088.3 606.6,1088.3 608.9,1084.7 611.3,1088.3 611.6,1088.3 615.4,1085.0 619.1,1088.3 619.4,1088.3 623.3,1086.0 627.1,1088.3 628.7,1088.3 630.9,1086.6 633.1,1088.3 633.8,1088.3 638.0,1086.3 642.1,1088.3 644.1,1088.3 648.2,1084.8 652.3,1088.3 653.4,1088.3 656.3,1085.7 659.3,1088.3 661.3,1088.3 663.7,1085.2 666.2,1088.3 668.2,1088.3 672.2,1086.6 676.2,1088.3 678.6,1088.3 681.0,1086.0 683.4,1088.3 685.0,1088.3 689.1,1086.0 693.2,1088.3 695.5,1088.3 698.9,1086.1 702.2,1088.3 703.2,1088.3 705.8,1086.6 708.4,1088.3 709.0,1088.3 712.6,1084.7 716.2,1088.3 716.9,1088.3 719.2,1084.7 721.5,1088.3 723.0,1088.3 726.0,1086.2 729.1,1088.3 730.7,1088.3 734.6,1085.8 738.5,1088.3 739.7,1088.3 742.1,1084.9 744.4,1088.3 744.8,1088.3 748.0,1085.0 751.2,1088.3 751.8,1089.0 763.5,1087.8 775.2,1089.0 780.7,1089.0 792.9,1088.7 805.1,1089.0 809.2,1089.0 815.6,1087.9 822.0,1089.0 825.1,1089.0 834.2,1087.7 843.4,1089.0 850.5,1089.0 864.4,1088.3 878.3,1089.0 882.7,1089.0 894.4,1088.3 906.1,1089.0 909.2,1089.0 917.9,1088.7 926.6,1089.0 930.3,1089.0 944.3,1087.8 958.4,1089.0 963.8,1089.0 973.4,1088.5 983.0,1089.0 984.6,1089.0 992.1,1088.0 999.7,1089.0 1006.8,1089.0 1015.1,1088.0 1023.5,1089.0 1030.0,1089.0 1041.3,1088.1 1052.7,1089.0 1059.1,1089.0 1067.4,1088.1 1075.8,1089.0 1078.8,1089.0 1088.2,1088.0 1097.7,1089.0 1103.6,1089.0 1111.3,1087.8 1119.0,1089.0 1124.6,1089.0 1134.9,1088.8 1145.3,1089.0 1150.1,1089.0 1157.5,1088.1 1164.8,1089.0 1169.1,1089.0 1181.6,1088.1 1194.0,1089.0 1200.7,1089.0 1208.9,1088.1 1217.1,1089.0 1223.3,1089.0 1235.9,1088.4 1248.5,1089.0 1255.4,1089.0 1268.4,1088.1 1281.4,1089.0 1289.3,1089.0 1303.0,1088.3 1316.7,1089.0 1321.5,1089.0 1328.1,1087.9 1334.6,1089.0 1342.3,1089.0 1351.6,1088.1 1361.0,1089.0 1367.1,1089.0 1378.8,1088.6 1390.5,1089.0 1397.0,1088.3 1400.4,1085.4 1403.8,1088.3 1405.1,1088.3 1408.5,1085.2 1412.0,1088.3 1413.7,1088.3 1417.4,1086.7 1421.1,1088.3 1421.7,1088.3 1424.9,1085.4 1428.0,1088.3 1428.8,1088.3 1432.4,1085.4 1436.0,1088.3 1436.4,1088.3 1439.5,1086.3 1441.5,1088.4 1441.5,1093.3 457.3,1093.3" fill="#000"/>
<rect x="274.4" y="1109.8" width="20.3" height="190.7" fill="#fe0000"/>
<rect x="274.4" y="1321.5" width="20.3" height="190.9" fill="#0037ff"/>
<rect x="303.9" y="1109.8" width="20.3" height="190.7" fill="#fe0000"/>
<rect x="303.9" y="1321.5" width="20.3" height="190.9" fill="#0037ff"/>
<path d="M268.5 1204.6H23.6" stroke="#f22" stroke-width="1.5" fill="none"/>
<path d="M268.5 1416.4H23.6" stroke="#2255ff" stroke-width="1.5" fill="none"/>
<path d="M23.6 1204V1417" stroke="#111" stroke-width="1.6" fill="none"/>
<text transform="translate(298.4 1090.8) rotate(-90)" font-size="18" fill="#111" textLength="76.0" lengthAdjust="spacingAndGlyphs">Condition</text>
<text transform="translate(327.6 1090.8) rotate(-90)" font-size="18" fill="#111" textLength="127.0" lengthAdjust="spacingAndGlyphs">New Parameter</text>
<text x="337.7" y="1215.4" font-size="18" fill="#111" textLength="128.3" lengthAdjust="spacingAndGlyphs">no2 APM2-HLE</text>
<text x="337.7" y="1433.8" font-size="18" fill="#111" textLength="123.7" lengthAdjust="spacingAndGlyphs">no1 Mock-HLE</text>
<svg x="579" y="1109.8" width="100" height="190.5" viewBox="0 0 100 1" preserveAspectRatio="none" shape-rendering="crispEdges">
<path fill="#e00" d="M0 0h1v1h-1zM1 0h2v1h-2zM3 0h1v1h-1zM4 0h1v1h-1zM11 0h3v1h-3zM14 0h3v1h-3zM21 0h1v1h-1zM22 0h2v1h-2z"/>
<path fill="#b00" d="M5 0h1v1h-1zM6 0h1v1h-1zM51 0h3v1h-3zM63 0h1v1h-1zM64 0h2v1h-2zM69 0h1v1h-1z"/>
<path fill="#a00" d="M7 0h1v1h-1zM8 0h3v1h-3zM41 0h2v1h-2zM55 0h2v1h-2zM57 0h3v1h-3zM66 0h2v1h-2z"/>
<path fill="#d00" d="M17 0h2v1h-2zM19 0h2v1h-2zM70 0h2v1h-2zM72 0h1v1h-1z"/>
<path fill="#f00" d="M24 0h2v1h-2zM26 0h3v1h-3zM29 0h3v1h-3zM32 0h3v1h-3zM35 0h2v1h-2z"/>
<path fill="#900" d="M37 0h2v1h-2zM39 0h2v1h-2zM48 0h3v1h-3zM54 0h1v1h-1zM73 0h2v1h-2zM75 0h2v1h-2zM96 0h1v1h-1zM97 0h2v1h-2zM99 0h1v1h-1z"/>
<path fill="#c00" d="M43 0h1v1h-1zM44 0h2v1h-2zM46 0h1v1h-1zM47 0h1v1h-1zM60 0h3v1h-3zM68 0h1v1h-1z"/>
<path fill="#600" d="M77 0h1v1h-1zM78 0h3v1h-3zM85 0h2v1h-2z"/>
<path fill="#700" d="M81 0h3v1h-3zM84 0h1v1h-1zM87 0h2v1h-2z"/>
<path fill="#300" d="M89 0h1v1h-1zM90 0h1v1h-1zM91 0h2v1h-2z"/>
<path fill="#800" d="M93 0h3v1h-3z"/>
</svg>
<svg x="579" y="1321.8" width="100" height="190.2" viewBox="0 0 100 1" preserveAspectRatio="none" shape-rendering="crispEdges">
<path fill="#b00" d="M0 0h1v1h-1zM1 0h1v1h-1zM2 0h1v1h-1zM3 0h2v1h-2zM15 0h1v1h-1zM17 0h1v1h-1zM19 0h1v1h-1zM20 0h3v1h-3zM23 0h1v1h-1z"/>
<path fill="#700" d="M5 0h3v1h-3zM8 0h3v1h-3z"/>
<path fill="#c00" d="M11 0h2v1h-2zM16 0h1v1h-1z"/>
<path fill="#a00" d="M13 0h2v1h-2zM18 0h1v1h-1z"/>
<path fill="#e00" d="M24 0h2v1h-2zM26 0h1v1h-1zM27 0h1v1h-1zM28 0h2v1h-2zM30 0h1v1h-1z"/>
<path fill="#f00" d="M31 0h2v1h-2zM33 0h2v1h-2z"/>
<path fill="#600" d="M35 0h1v1h-1zM36 0h1v1h-1zM37 0h2v1h-2zM39 0h2v1h-2zM45 0h1v1h-1z"/>
<path fill="#500" d="M41 0h3v1h-3zM44 0h1v1h-1zM46 0h2v1h-2z"/>
<path fill="#400" d="M48 0h1v1h-1zM51 0h3v1h-3zM54 0h1v1h-1zM63 0h2v1h-2zM65 0h1v1h-1zM66 0h1v1h-1zM67 0h1v1h-1zM68 0h2v1h-2z"/>
<path fill="#300" d="M49 0h2v1h-2zM59 0h3v1h-3z"/>
<path fill="#200" d="M55 0h3v1h-3zM58 0h1v1h-1zM62 0h1v1h-1zM70 0h1v1h-1zM71 0h2v1h-2z"/>
<path fill="#000" d="M73 0h2v1h-2zM75 0h1v1h-1zM76 0h2v1h-2zM78 0h2v1h-2zM80 0h1v1h-1zM81 0h3v1h-3zM84 0h3v1h-3zM87 0h1v1h-1zM88 0h1v1h-1zM89 0h3v1h-3z"/>
<path fill="#010" d="M92 0h3v1h-3zM95 0h2v1h-2zM97 0h2v1h-2zM99 0h1v1h-1z"/>
</svg>
<svg x="1029" y="1110.0" width="412" height="190.3" viewBox="0 0 412 1" preserveAspectRatio="none" shape-rendering="crispEdges">
<path fill="#030" d="M0 0h1v1h-1zM1 0h2v1h-2zM3 0h1v1h-1zM4 0h2v1h-2zM9 0h2v1h-2zM11 0h2v1h-2zM13 0h2v1h-2zM15 0h1v1h-1zM19 0h1v1h-1zM20 0h2v1h-2zM22 0h2v1h-2zM27 0h1v1h-1zM28 0h2v1h-2zM30 0h2v1h-2zM43 0h3v1h-3zM254 0h3v1h-3zM257 0h2v1h-2zM269 0h1v1h-1z"/>
<path fill="#020" d="M6 0h2v1h-2zM8 0h1v1h-1zM24 0h1v1h-1zM26 0h1v1h-1zM34 0h2v1h-2zM36 0h1v1h-1zM40 0h3v1h-3zM46 0h3v1h-3zM49 0h2v1h-2zM51 0h1v1h-1z"/>
<path fill="#040" d="M16 0h2v1h-2zM260 0h1v1h-1zM261 0h3v1h-3zM264 0h1v1h-1zM272 0h1v1h-1zM273 0h2v1h-2zM275 0h2v1h-2zM277 0h2v1h-2zM282 0h2v1h-2zM284 0h2v1h-2zM294 0h2v1h-2zM296 0h2v1h-2zM298 0h1v1h-1zM309 0h1v1h-1zM327 0h2v1h-2zM336 0h2v1h-2zM338 0h1v1h-1zM339 0h2v1h-2zM343 0h1v1h-1z"/>
<path fill="#070" d="M18 0h1v1h-1zM270 0h2v1h-2z"/>
<path fill="#050" d="M25 0h1v1h-1zM259 0h1v1h-1zM265 0h2v1h-2zM299 0h1v1h-1zM303 0h2v1h-2zM311 0h1v1h-1zM312 0h1v1h-1zM319 0h1v1h-1zM325 0h1v1h-1zM331 0h2v1h-2zM349 0h2v1h-2zM351 0h2v1h-2z"/>
<path fill="#060" d="M32 0h2v1h-2zM151 0h3v1h-3zM267 0h2v1h-2zM326 0h1v1h-1z"/>
<path fill="#010" d="M37 0h3v1h-3z"/>
<path fill="#090" d="M52 0h2v1h-2zM59 0h3v1h-3zM74 0h1v1h-1zM76 0h3v1h-3zM88 0h3v1h-3zM96 0h2v1h-2zM103 0h2v1h-2zM105 0h1v1h-1zM106 0h1v1h-1zM109 0h2v1h-2zM113 0h1v1h-1zM119 0h1v1h-1zM122 0h3v1h-3zM279 0h2v1h-2zM287 0h1v1h-1zM288 0h1v1h-1zM290 0h2v1h-2zM305 0h2v1h-2zM308 0h1v1h-1zM313 0h2v1h-2zM333 0h1v1h-1zM334 0h2v1h-2zM345 0h1v1h-1zM346 0h2v1h-2zM348 0h1v1h-1zM353 0h1v1h-1z"/>
<path fill="#0a0" d="M54 0h2v1h-2zM56 0h1v1h-1zM57 0h2v1h-2zM62 0h2v1h-2zM64 0h2v1h-2zM75 0h1v1h-1zM91 0h1v1h-1zM92 0h1v1h-1zM93 0h2v1h-2zM98 0h3v1h-3zM107 0h2v1h-2zM111 0h2v1h-2zM115 0h3v1h-3zM120 0h2v1h-2zM281 0h1v1h-1zM286 0h1v1h-1zM289 0h1v1h-1zM292 0h1v1h-1zM293 0h1v1h-1zM300 0h1v1h-1zM301 0h2v1h-2zM316 0h1v1h-1zM317 0h2v1h-2zM320 0h1v1h-1zM321 0h2v1h-2zM323 0h2v1h-2zM341 0h2v1h-2zM344 0h1v1h-1z"/>
<path fill="#0d0" d="M66 0h3v1h-3zM114 0h1v1h-1zM125 0h2v1h-2zM127 0h2v1h-2zM132 0h3v1h-3zM137 0h2v1h-2zM139 0h1v1h-1zM141 0h1v1h-1zM149 0h2v1h-2zM165 0h1v1h-1zM170 0h3v1h-3zM175 0h3v1h-3zM183 0h1v1h-1zM184 0h1v1h-1zM188 0h2v1h-2zM191 0h2v1h-2zM212 0h1v1h-1zM219 0h2v1h-2zM224 0h1v1h-1zM226 0h1v1h-1zM231 0h3v1h-3zM234 0h3v1h-3zM239 0h1v1h-1zM240 0h1v1h-1zM241 0h2v1h-2zM243 0h2v1h-2zM248 0h1v1h-1z"/>
<path fill="#080" d="M69 0h3v1h-3zM79 0h2v1h-2zM307 0h1v1h-1zM310 0h1v1h-1zM315 0h1v1h-1zM329 0h2v1h-2z"/>
<path fill="#0b0" d="M72 0h2v1h-2zM85 0h3v1h-3zM142 0h1v1h-1zM156 0h2v1h-2zM158 0h2v1h-2zM160 0h3v1h-3zM163 0h2v1h-2zM166 0h3v1h-3zM169 0h1v1h-1zM173 0h1v1h-1zM181 0h2v1h-2zM198 0h2v1h-2zM204 0h2v1h-2zM208 0h2v1h-2zM213 0h3v1h-3zM217 0h1v1h-1zM218 0h1v1h-1zM237 0h2v1h-2zM246 0h1v1h-1zM249 0h1v1h-1zM252 0h2v1h-2z"/>
<path fill="#0c0" d="M81 0h2v1h-2zM83 0h2v1h-2zM95 0h1v1h-1zM101 0h2v1h-2zM118 0h1v1h-1zM129 0h3v1h-3zM135 0h2v1h-2zM140 0h1v1h-1zM143 0h3v1h-3zM146 0h3v1h-3zM154 0h2v1h-2zM174 0h1v1h-1zM178 0h3v1h-3zM185 0h2v1h-2zM187 0h1v1h-1zM190 0h1v1h-1zM193 0h2v1h-2zM195 0h2v1h-2zM197 0h1v1h-1zM200 0h2v1h-2zM202 0h2v1h-2zM206 0h2v1h-2zM210 0h2v1h-2zM216 0h1v1h-1zM221 0h3v1h-3zM225 0h1v1h-1zM227 0h2v1h-2zM229 0h2v1h-2zM245 0h1v1h-1zM247 0h1v1h-1zM250 0h2v1h-2z"/>
<path fill="#000" d="M354 0h3v1h-3zM357 0h6v1h-6zM363 0h3v1h-3z"/>
<path fill="#100" d="M366 0h5v1h-5zM371 0h6v1h-6zM377 0h5v1h-5z"/>
<path fill="#a00" d="M382 0h1v1h-1z"/>
<path fill="#400" d="M383 0h1v1h-1zM384 0h1v1h-1zM385 0h2v1h-2zM387 0h1v1h-1zM388 0h3v1h-3zM401 0h1v1h-1zM407 0h3v1h-3z"/>
<path fill="#800" d="M391 0h1v1h-1z"/>
<path fill="#300" d="M392 0h2v1h-2zM394 0h1v1h-1zM395 0h3v1h-3zM398 0h3v1h-3zM402 0h1v1h-1zM403 0h3v1h-3zM406 0h1v1h-1zM410 0h1v1h-1zM411 0h1v1h-1z"/>
</svg>
<svg x="1029" y="1321.5" width="412" height="190.3" viewBox="0 0 412 1" preserveAspectRatio="none" shape-rendering="crispEdges">
<path fill="#0c0" d="M0 0h2v1h-2zM7 0h2v1h-2zM9 0h1v1h-1zM12 0h1v1h-1zM15 0h1v1h-1zM28 0h2v1h-2zM260 0h1v1h-1zM285 0h3v1h-3zM303 0h1v1h-1zM304 0h1v1h-1zM305 0h3v1h-3zM309 0h2v1h-2zM317 0h1v1h-1zM321 0h3v1h-3zM333 0h3v1h-3zM349 0h2v1h-2zM351 0h3v1h-3z"/>
<path fill="#060" d="M2 0h1v1h-1zM3 0h2v1h-2zM13 0h2v1h-2zM18 0h1v1h-1zM26 0h2v1h-2zM47 0h2v1h-2zM254 0h2v1h-2zM259 0h1v1h-1z"/>
<path fill="#040" d="M5 0h1v1h-1zM24 0h2v1h-2zM43 0h1v1h-1zM44 0h2v1h-2zM46 0h1v1h-1zM354 0h3v1h-3zM359 0h3v1h-3zM362 0h1v1h-1zM363 0h2v1h-2zM365 0h1v1h-1zM366 0h1v1h-1zM370 0h1v1h-1zM371 0h1v1h-1zM372 0h3v1h-3zM375 0h2v1h-2zM377 0h1v1h-1zM378 0h1v1h-1zM379 0h2v1h-2zM401 0h1v1h-1zM406 0h3v1h-3zM410 0h2v1h-2z"/>
<path fill="#050" d="M6 0h1v1h-1zM10 0h2v1h-2zM16 0h2v1h-2zM23 0h1v1h-1zM34 0h2v1h-2zM51 0h1v1h-1zM256 0h3v1h-3zM357 0h2v1h-2zM367 0h3v1h-3zM381 0h3v1h-3zM384 0h1v1h-1z"/>
<path fill="#0b0" d="M19 0h2v1h-2zM21 0h2v1h-2zM32 0h2v1h-2zM90 0h2v1h-2zM277 0h2v1h-2zM288 0h2v1h-2zM296 0h2v1h-2zM308 0h1v1h-1zM314 0h3v1h-3zM318 0h3v1h-3zM346 0h1v1h-1z"/>
<path fill="#0d0" d="M30 0h2v1h-2zM58 0h3v1h-3zM65 0h2v1h-2zM69 0h2v1h-2zM78 0h1v1h-1zM82 0h3v1h-3zM85 0h3v1h-3zM88 0h2v1h-2zM105 0h2v1h-2zM110 0h2v1h-2zM126 0h1v1h-1zM142 0h3v1h-3zM145 0h2v1h-2zM147 0h3v1h-3zM153 0h3v1h-3zM156 0h3v1h-3zM161 0h2v1h-2zM168 0h1v1h-1zM171 0h3v1h-3zM174 0h3v1h-3zM181 0h3v1h-3zM198 0h3v1h-3zM201 0h3v1h-3zM207 0h1v1h-1zM228 0h2v1h-2zM274 0h1v1h-1zM282 0h3v1h-3zM300 0h3v1h-3zM311 0h3v1h-3zM330 0h3v1h-3z"/>
<path fill="#030" d="M36 0h2v1h-2zM49 0h2v1h-2zM395 0h3v1h-3zM402 0h2v1h-2zM404 0h2v1h-2zM409 0h1v1h-1z"/>
<path fill="#080" d="M38 0h2v1h-2zM41 0h1v1h-1zM326 0h3v1h-3zM347 0h2v1h-2z"/>
<path fill="#070" d="M40 0h1v1h-1zM42 0h1v1h-1zM291 0h2v1h-2z"/>
<path fill="#0e0" d="M52 0h3v1h-3zM61 0h1v1h-1zM62 0h3v1h-3zM67 0h2v1h-2zM73 0h2v1h-2zM77 0h1v1h-1zM79 0h3v1h-3zM92 0h3v1h-3zM95 0h2v1h-2zM97 0h1v1h-1zM98 0h1v1h-1zM99 0h3v1h-3zM109 0h1v1h-1zM112 0h3v1h-3zM115 0h2v1h-2zM120 0h2v1h-2zM125 0h1v1h-1zM127 0h3v1h-3zM130 0h3v1h-3zM133 0h2v1h-2zM135 0h2v1h-2zM137 0h1v1h-1zM138 0h3v1h-3zM141 0h1v1h-1zM150 0h2v1h-2zM152 0h1v1h-1zM159 0h2v1h-2zM163 0h2v1h-2zM165 0h3v1h-3zM169 0h2v1h-2zM177 0h1v1h-1zM178 0h1v1h-1zM184 0h3v1h-3zM187 0h3v1h-3zM190 0h1v1h-1zM191 0h2v1h-2zM193 0h2v1h-2zM195 0h2v1h-2zM197 0h1v1h-1zM204 0h1v1h-1zM205 0h2v1h-2zM208 0h2v1h-2zM213 0h2v1h-2zM215 0h2v1h-2zM217 0h3v1h-3zM220 0h1v1h-1zM221 0h3v1h-3zM224 0h2v1h-2zM226 0h2v1h-2zM230 0h3v1h-3zM233 0h3v1h-3zM237 0h1v1h-1zM238 0h3v1h-3zM241 0h3v1h-3zM244 0h2v1h-2zM246 0h2v1h-2zM248 0h2v1h-2zM250 0h1v1h-1zM251 0h3v1h-3zM336 0h2v1h-2zM340 0h2v1h-2z"/>
<path fill="#0f0" d="M55 0h3v1h-3zM71 0h2v1h-2zM102 0h3v1h-3zM107 0h2v1h-2zM117 0h3v1h-3zM122 0h3v1h-3zM179 0h2v1h-2zM236 0h1v1h-1z"/>
<path fill="#090" d="M75 0h2v1h-2zM210 0h3v1h-3zM261 0h3v1h-3zM264 0h3v1h-3zM267 0h1v1h-1zM271 0h3v1h-3zM280 0h1v1h-1zM281 0h1v1h-1zM295 0h1v1h-1zM298 0h2v1h-2zM324 0h2v1h-2zM329 0h1v1h-1zM343 0h2v1h-2zM345 0h1v1h-1z"/>
<path fill="#0a0" d="M268 0h3v1h-3zM275 0h2v1h-2zM279 0h1v1h-1zM290 0h1v1h-1zM293 0h2v1h-2zM338 0h2v1h-2zM342 0h1v1h-1z"/>
<path fill="#000" d="M385 0h3v1h-3zM388 0h1v1h-1zM389 0h2v1h-2zM391 0h1v1h-1zM392 0h1v1h-1zM393 0h2v1h-2z"/>
<path fill="#020" d="M398 0h3v1h-3z"/>
</svg>
<rect x="457.8" y="1544.5" width="983.5" height="7.5" fill="#ffee00"/>
<path fill="#ffd000" d="M601.8 1544.5h1v7.5h-1zM613.1 1544.5h2v7.5h-2zM617.9 1544.5h1v7.5h-1zM676.2 1544.5h1v7.5h-1zM701.6 1544.5h2v7.5h-2zM703.3 1544.5h2v7.5h-2zM714.8 1544.5h1v7.5h-1zM720.9 1544.5h2v7.5h-2zM722.5 1544.5h2v7.5h-2zM729.7 1544.5h1v7.5h-1zM748.0 1544.5h1v7.5h-1zM762.3 1544.5h2v7.5h-2z"/>
<path fill="#ffdd00" d="M609.6 1544.5h1v7.5h-1zM619.7 1544.5h2v7.5h-2zM632.5 1544.5h1v7.5h-1zM665.5 1544.5h1v7.5h-1zM673.3 1544.5h2v7.5h-2zM705.3 1544.5h1v7.5h-1zM712.4 1544.5h2v7.5h-2zM737.1 1544.5h2v7.5h-2zM742.0 1544.5h1v7.5h-1zM750.2 1544.5h2v7.5h-2zM779.1 1544.5h1v7.5h-1zM781.3 1544.5h1v7.5h-1zM789.6 1544.5h2v7.5h-2zM792.8 1544.5h1v7.5h-1zM1103.7 1544.5h2v7.5h-2zM1139.4 1544.5h1v7.5h-1zM1154.1 1544.5h1v7.5h-1zM1173.0 1544.5h1v7.5h-1zM1185.8 1544.5h1v7.5h-1zM1195.5 1544.5h1v7.5h-1zM1199.7 1544.5h1v7.5h-1zM1215.8 1544.5h1v7.5h-1zM1218.8 1544.5h2v7.5h-2zM1226.4 1544.5h1v7.5h-1zM1243.3 1544.5h1v7.5h-1zM1259.9 1544.5h1v7.5h-1zM1264.7 1544.5h1v7.5h-1zM1267.6 1544.5h1v7.5h-1zM1277.0 1544.5h1v7.5h-1z"/>
<path fill="#ffaa00" d="M1037.0 1544.5h1v7.5h-1zM1073.5 1544.5h1v7.5h-1zM1291.0 1544.5h2v7.5h-2zM1297.3 1544.5h1v7.5h-1zM1303.2 1544.5h1v7.5h-1zM1312.7 1544.5h1v7.5h-1zM1323.5 1544.5h2v7.5h-2zM1333.4 1544.5h2v7.5h-2zM1344.5 1544.5h1v7.5h-1zM1363.5 1544.5h1v7.5h-1zM1379.4 1544.5h1v7.5h-1zM1393.3 1544.5h1v7.5h-1zM1398.6 1544.5h2v7.5h-2zM1400.9 1544.5h1v7.5h-1z"/>
<path fill="#ff7700" d="M1042.2 1544.5h1v7.5h-1zM1051.3 1544.5h2v7.5h-2zM1059.0 1544.5h1v7.5h-1zM1062.5 1544.5h1v7.5h-1zM1064.2 1544.5h2v7.5h-2zM1080.3 1544.5h2v7.5h-2z"/>
<path fill="#ff4400" d="M1046.0 1544.5h1v7.5h-1zM1047.7 1544.5h1v7.5h-1zM1060.7 1544.5h2v7.5h-2z"/>
<path fill="#ffcc00" d="M1049.5 1544.5h1v7.5h-1zM1068.4 1544.5h1v7.5h-1zM1071.2 1544.5h2v7.5h-2zM1078.3 1544.5h2v7.5h-2zM1294.3 1544.5h2v7.5h-2zM1347.5 1544.5h2v7.5h-2zM1361.3 1544.5h1v7.5h-1zM1367.0 1544.5h2v7.5h-2zM1369.0 1544.5h1v7.5h-1zM1374.6 1544.5h2v7.5h-2zM1381.3 1544.5h1v7.5h-1zM1402.5 1544.5h2v7.5h-2zM1418.7 1544.5h2v7.5h-2zM1427.9 1544.5h1v7.5h-1z"/>
<path fill="#ff8800" d="M1283.0 1544.5h1v7.5h-1zM1287.1 1544.5h1v7.5h-1zM1289.3 1544.5h2v7.5h-2zM1325.2 1544.5h1v7.5h-1zM1335.5 1544.5h2v7.5h-2zM1350.0 1544.5h1v7.5h-1zM1352.2 1544.5h1v7.5h-1zM1358.3 1544.5h1v7.5h-1zM1372.0 1544.5h2v7.5h-2zM1410.5 1544.5h2v7.5h-2zM1415.3 1544.5h1v7.5h-1zM1421.9 1544.5h2v7.5h-2z"/>
<svg x="414" y="1888.3" width="1047" height="189.7" viewBox="0 0 1047 1" preserveAspectRatio="none" shape-rendering="crispEdges">
<path fill="#300" d="M0 0h2v1h-2zM2 0h2v1h-2zM4 0h3v1h-3zM10 0h1v1h-1zM11 0h1v1h-1zM12 0h2v1h-2zM14 0h1v1h-1zM15 0h2v1h-2zM18 0h2v1h-2zM26 0h2v1h-2zM29 0h2v1h-2zM221 0h1v1h-1zM226 0h3v1h-3zM229 0h3v1h-3zM1018 0h4v1h-4zM1022 0h4v1h-4zM1032 0h2v1h-2zM1034 0h2v1h-2zM1036 0h4v1h-4zM1040 0h4v1h-4zM1044 0h3v1h-3z"/>
<path fill="#200" d="M7 0h3v1h-3zM17 0h1v1h-1zM20 0h1v1h-1zM21 0h1v1h-1zM22 0h2v1h-2zM1016 0h2v1h-2zM1026 0h2v1h-2zM1028 0h4v1h-4z"/>
<path fill="#600" d="M24 0h2v1h-2zM28 0h1v1h-1zM39 0h1v1h-1zM40 0h3v1h-3zM44 0h2v1h-2zM133 0h2v1h-2zM168 0h3v1h-3zM190 0h2v1h-2zM192 0h3v1h-3zM202 0h2v1h-2zM204 0h2v1h-2zM206 0h3v1h-3zM211 0h1v1h-1z"/>
<path fill="#500" d="M31 0h3v1h-3zM34 0h2v1h-2zM36 0h3v1h-3zM128 0h3v1h-3zM131 0h2v1h-2zM218 0h3v1h-3z"/>
<path fill="#700" d="M43 0h1v1h-1zM67 0h2v1h-2zM84 0h1v1h-1zM85 0h3v1h-3zM88 0h2v1h-2zM92 0h1v1h-1zM186 0h1v1h-1zM195 0h3v1h-3zM200 0h2v1h-2z"/>
<path fill="#f00" d="M46 0h3v1h-3zM49 0h1v1h-1zM50 0h2v1h-2zM52 0h3v1h-3z"/>
<path fill="#c00" d="M55 0h3v1h-3zM58 0h3v1h-3zM61 0h1v1h-1z"/>
<path fill="#900" d="M62 0h2v1h-2zM64 0h2v1h-2zM69 0h3v1h-3zM158 0h1v1h-1zM176 0h2v1h-2zM180 0h3v1h-3zM183 0h3v1h-3z"/>
<path fill="#800" d="M66 0h1v1h-1zM90 0h2v1h-2zM171 0h3v1h-3zM174 0h2v1h-2zM178 0h2v1h-2zM187 0h1v1h-1zM188 0h2v1h-2zM198 0h2v1h-2zM209 0h2v1h-2z"/>
<path fill="#a00" d="M72 0h1v1h-1zM77 0h2v1h-2zM79 0h2v1h-2zM138 0h1v1h-1zM142 0h3v1h-3zM147 0h2v1h-2zM156 0h2v1h-2zM166 0h2v1h-2z"/>
<path fill="#b00" d="M73 0h1v1h-1zM74 0h3v1h-3zM81 0h1v1h-1zM82 0h2v1h-2zM135 0h3v1h-3zM139 0h3v1h-3zM145 0h2v1h-2zM149 0h2v1h-2zM151 0h2v1h-2zM153 0h2v1h-2zM155 0h1v1h-1z"/>
<path fill="#100" d="M93 0h3v1h-3zM98 0h3v1h-3zM101 0h3v1h-3zM104 0h3v1h-3zM107 0h2v1h-2zM109 0h4v1h-4z"/>
<path fill="#000" d="M96 0h2v1h-2zM113 0h1v1h-1zM114 0h2v1h-2zM116 0h2v1h-2zM118 0h3v1h-3zM121 0h1v1h-1zM122 0h2v1h-2zM124 0h1v1h-1zM125 0h1v1h-1zM126 0h1v1h-1zM127 0h1v1h-1zM159 0h2v1h-2zM161 0h2v1h-2zM163 0h1v1h-1zM164 0h1v1h-1zM268 0h1v1h-1zM269 0h2v1h-2zM271 0h2v1h-2zM273 0h1v1h-1zM274 0h1v1h-1zM275 0h2v1h-2zM277 0h1v1h-1zM278 0h1v1h-1zM279 0h3v1h-3zM282 0h2v1h-2zM284 0h2v1h-2zM663 0h1v1h-1zM985 0h1v1h-1zM986 0h3v1h-3zM989 0h1v1h-1zM990 0h3v1h-3zM993 0h2v1h-2zM995 0h2v1h-2zM997 0h3v1h-3zM1000 0h1v1h-1zM1001 0h2v1h-2zM1003 0h1v1h-1zM1004 0h2v1h-2zM1006 0h2v1h-2zM1008 0h2v1h-2zM1010 0h3v1h-3zM1013 0h2v1h-2zM1015 0h1v1h-1z"/>
<path fill="#ccc" d="M165 0h1v1h-1z"/>
<path fill="#400" d="M212 0h3v1h-3zM215 0h3v1h-3zM222 0h2v1h-2zM224 0h2v1h-2z"/>
<path fill="#030" d="M232 0h1v1h-1zM233 0h1v1h-1zM238 0h2v1h-2zM244 0h1v1h-1zM245 0h2v1h-2zM265 0h2v1h-2zM295 0h4v1h-4zM299 0h2v1h-2zM301 0h2v1h-2zM613 0h2v1h-2zM615 0h2v1h-2zM617 0h1v1h-1zM618 0h2v1h-2zM620 0h2v1h-2zM622 0h1v1h-1zM653 0h2v1h-2zM970 0h3v1h-3z"/>
<path fill="#020" d="M234 0h3v1h-3zM237 0h1v1h-1zM240 0h3v1h-3zM243 0h1v1h-1zM247 0h1v1h-1zM248 0h1v1h-1zM286 0h3v1h-3zM289 0h2v1h-2zM291 0h4v1h-4zM608 0h2v1h-2zM610 0h2v1h-2zM612 0h1v1h-1zM626 0h2v1h-2zM641 0h2v1h-2zM646 0h3v1h-3z"/>
<path fill="#040" d="M249 0h1v1h-1zM251 0h1v1h-1zM253 0h2v1h-2zM255 0h1v1h-1zM259 0h2v1h-2zM323 0h1v1h-1zM350 0h2v1h-2zM667 0h1v1h-1zM673 0h1v1h-1zM881 0h1v1h-1zM882 0h3v1h-3zM885 0h3v1h-3zM888 0h2v1h-2zM890 0h3v1h-3zM893 0h3v1h-3zM896 0h1v1h-1zM897 0h1v1h-1zM898 0h3v1h-3zM901 0h2v1h-2zM903 0h1v1h-1zM904 0h3v1h-3zM965 0h3v1h-3z"/>
<path fill="#070" d="M250 0h1v1h-1zM263 0h2v1h-2zM303 0h1v1h-1zM304 0h1v1h-1zM305 0h1v1h-1zM308 0h3v1h-3zM479 0h2v1h-2zM498 0h1v1h-1zM501 0h1v1h-1zM506 0h3v1h-3zM517 0h3v1h-3zM520 0h2v1h-2zM522 0h2v1h-2zM532 0h3v1h-3zM541 0h2v1h-2zM553 0h1v1h-1zM560 0h1v1h-1zM577 0h2v1h-2zM686 0h3v1h-3zM689 0h3v1h-3zM692 0h1v1h-1zM695 0h2v1h-2zM700 0h3v1h-3zM708 0h1v1h-1zM709 0h2v1h-2zM712 0h3v1h-3zM715 0h3v1h-3zM718 0h3v1h-3zM730 0h1v1h-1zM732 0h3v1h-3zM738 0h1v1h-1zM746 0h3v1h-3zM752 0h2v1h-2zM759 0h2v1h-2zM764 0h3v1h-3zM767 0h1v1h-1zM768 0h2v1h-2zM771 0h2v1h-2zM779 0h3v1h-3zM909 0h3v1h-3zM933 0h3v1h-3z"/>
<path fill="#080" d="M252 0h1v1h-1zM306 0h2v1h-2zM412 0h3v1h-3zM415 0h3v1h-3zM418 0h2v1h-2zM420 0h1v1h-1zM424 0h1v1h-1zM425 0h2v1h-2zM428 0h1v1h-1zM434 0h3v1h-3zM437 0h2v1h-2zM441 0h2v1h-2zM451 0h3v1h-3zM454 0h1v1h-1zM458 0h2v1h-2zM460 0h3v1h-3zM464 0h2v1h-2zM466 0h3v1h-3zM472 0h2v1h-2zM481 0h2v1h-2zM483 0h2v1h-2zM485 0h2v1h-2zM487 0h3v1h-3zM491 0h1v1h-1zM495 0h2v1h-2zM497 0h1v1h-1zM499 0h1v1h-1zM502 0h3v1h-3zM505 0h1v1h-1zM509 0h3v1h-3zM512 0h2v1h-2zM514 0h3v1h-3zM526 0h1v1h-1zM529 0h3v1h-3zM536 0h2v1h-2zM538 0h1v1h-1zM543 0h1v1h-1zM544 0h3v1h-3zM555 0h2v1h-2zM557 0h3v1h-3zM562 0h2v1h-2zM565 0h3v1h-3zM573 0h1v1h-1zM574 0h1v1h-1zM585 0h3v1h-3zM601 0h1v1h-1zM682 0h2v1h-2zM697 0h3v1h-3zM703 0h2v1h-2zM706 0h2v1h-2zM711 0h1v1h-1zM721 0h3v1h-3zM724 0h2v1h-2zM731 0h1v1h-1zM735 0h3v1h-3zM742 0h1v1h-1zM751 0h1v1h-1zM754 0h1v1h-1zM756 0h2v1h-2zM770 0h1v1h-1zM773 0h3v1h-3zM782 0h2v1h-2zM784 0h2v1h-2zM786 0h3v1h-3zM790 0h3v1h-3zM801 0h3v1h-3zM807 0h2v1h-2zM816 0h3v1h-3zM826 0h3v1h-3zM832 0h2v1h-2zM834 0h1v1h-1zM841 0h1v1h-1zM842 0h1v1h-1zM850 0h3v1h-3zM863 0h1v1h-1z"/>
<path fill="#050" d="M256 0h3v1h-3zM315 0h1v1h-1zM319 0h2v1h-2zM329 0h1v1h-1zM330 0h2v1h-2zM341 0h1v1h-1zM354 0h2v1h-2zM358 0h1v1h-1zM359 0h1v1h-1zM664 0h1v1h-1zM665 0h2v1h-2zM668 0h1v1h-1zM669 0h2v1h-2zM671 0h1v1h-1zM672 0h1v1h-1zM674 0h1v1h-1zM675 0h1v1h-1zM705 0h1v1h-1zM907 0h2v1h-2zM914 0h3v1h-3zM917 0h1v1h-1zM918 0h1v1h-1zM919 0h2v1h-2zM921 0h3v1h-3zM924 0h1v1h-1zM925 0h2v1h-2zM927 0h3v1h-3zM930 0h1v1h-1zM931 0h2v1h-2zM940 0h2v1h-2zM948 0h2v1h-2zM950 0h2v1h-2zM958 0h3v1h-3zM968 0h1v1h-1zM977 0h2v1h-2zM979 0h3v1h-3zM982 0h3v1h-3z"/>
<path fill="#060" d="M261 0h2v1h-2zM267 0h1v1h-1zM313 0h2v1h-2zM327 0h2v1h-2zM338 0h2v1h-2zM342 0h2v1h-2zM360 0h1v1h-1zM370 0h1v1h-1zM375 0h1v1h-1zM440 0h1v1h-1zM527 0h2v1h-2zM547 0h3v1h-3zM552 0h1v1h-1zM554 0h1v1h-1zM676 0h1v1h-1zM677 0h3v1h-3zM680 0h2v1h-2zM684 0h2v1h-2zM693 0h2v1h-2zM726 0h2v1h-2zM728 0h2v1h-2zM739 0h3v1h-3zM743 0h3v1h-3zM749 0h2v1h-2zM755 0h1v1h-1zM758 0h1v1h-1zM761 0h3v1h-3zM776 0h3v1h-3zM912 0h2v1h-2zM936 0h1v1h-1zM937 0h2v1h-2zM939 0h1v1h-1zM942 0h3v1h-3zM945 0h3v1h-3zM952 0h3v1h-3zM955 0h3v1h-3zM961 0h2v1h-2zM963 0h2v1h-2zM969 0h1v1h-1zM973 0h2v1h-2zM975 0h2v1h-2z"/>
<path fill="#090" d="M311 0h2v1h-2zM332 0h1v1h-1zM334 0h1v1h-1zM337 0h1v1h-1zM344 0h2v1h-2zM348 0h1v1h-1zM349 0h1v1h-1zM352 0h2v1h-2zM356 0h1v1h-1zM365 0h2v1h-2zM373 0h2v1h-2zM394 0h4v1h-4zM405 0h4v1h-4zM421 0h3v1h-3zM427 0h1v1h-1zM429 0h1v1h-1zM430 0h1v1h-1zM431 0h3v1h-3zM439 0h1v1h-1zM443 0h3v1h-3zM446 0h3v1h-3zM449 0h2v1h-2zM455 0h3v1h-3zM463 0h1v1h-1zM469 0h1v1h-1zM470 0h1v1h-1zM471 0h1v1h-1zM474 0h2v1h-2zM476 0h3v1h-3zM490 0h1v1h-1zM492 0h3v1h-3zM500 0h1v1h-1zM524 0h2v1h-2zM535 0h1v1h-1zM539 0h2v1h-2zM550 0h2v1h-2zM561 0h1v1h-1zM564 0h1v1h-1zM568 0h3v1h-3zM571 0h1v1h-1zM572 0h1v1h-1zM575 0h2v1h-2zM579 0h3v1h-3zM582 0h2v1h-2zM593 0h3v1h-3zM602 0h3v1h-3zM789 0h1v1h-1zM793 0h1v1h-1zM794 0h3v1h-3zM797 0h3v1h-3zM800 0h1v1h-1zM804 0h3v1h-3zM809 0h3v1h-3zM812 0h2v1h-2zM814 0h2v1h-2zM819 0h3v1h-3zM822 0h2v1h-2zM824 0h2v1h-2zM829 0h1v1h-1zM830 0h2v1h-2zM835 0h3v1h-3zM838 0h2v1h-2zM840 0h1v1h-1zM848 0h2v1h-2zM859 0h3v1h-3zM862 0h1v1h-1zM868 0h2v1h-2zM870 0h1v1h-1zM876 0h3v1h-3zM879 0h2v1h-2z"/>
<path fill="#0a0" d="M316 0h2v1h-2zM318 0h1v1h-1zM321 0h1v1h-1zM322 0h1v1h-1zM324 0h2v1h-2zM326 0h1v1h-1zM333 0h1v1h-1zM335 0h2v1h-2zM346 0h2v1h-2zM357 0h1v1h-1zM361 0h2v1h-2zM363 0h2v1h-2zM367 0h1v1h-1zM368 0h2v1h-2zM371 0h2v1h-2zM376 0h4v1h-4zM380 0h2v1h-2zM382 0h4v1h-4zM386 0h4v1h-4zM390 0h2v1h-2zM392 0h2v1h-2zM398 0h4v1h-4zM402 0h3v1h-3zM409 0h3v1h-3zM584 0h1v1h-1zM588 0h3v1h-3zM591 0h2v1h-2zM596 0h3v1h-3zM599 0h2v1h-2zM605 0h3v1h-3zM843 0h3v1h-3zM846 0h2v1h-2zM853 0h3v1h-3zM856 0h3v1h-3zM864 0h2v1h-2zM866 0h2v1h-2zM871 0h3v1h-3zM874 0h2v1h-2z"/>
<path fill="#0b0" d="M340 0h1v1h-1z"/>
<path fill="#010" d="M623 0h3v1h-3zM628 0h3v1h-3zM631 0h2v1h-2zM633 0h3v1h-3zM636 0h2v1h-2zM638 0h3v1h-3zM643 0h1v1h-1zM644 0h1v1h-1zM645 0h1v1h-1zM649 0h3v1h-3zM652 0h1v1h-1zM655 0h2v1h-2zM657 0h1v1h-1zM658 0h2v1h-2zM660 0h1v1h-1zM661 0h2v1h-2z"/>
</svg>
<svg x="414" y="2077.0" width="1047" height="190.0" viewBox="0 0 1047 1" preserveAspectRatio="none" shape-rendering="crispEdges">
<path fill="#600" d="M0 0h3v1h-3zM3 0h1v1h-1zM16 0h1v1h-1zM18 0h2v1h-2zM20 0h2v1h-2zM167 0h3v1h-3z"/>
<path fill="#700" d="M4 0h3v1h-3zM10 0h3v1h-3zM13 0h3v1h-3zM17 0h1v1h-1zM135 0h2v1h-2zM138 0h1v1h-1zM139 0h1v1h-1zM140 0h2v1h-2zM142 0h2v1h-2zM146 0h1v1h-1zM148 0h1v1h-1zM150 0h1v1h-1zM153 0h2v1h-2zM158 0h1v1h-1z"/>
<path fill="#500" d="M7 0h3v1h-3zM100 0h1v1h-1zM104 0h2v1h-2zM106 0h3v1h-3zM109 0h2v1h-2zM111 0h2v1h-2zM166 0h1v1h-1z"/>
<path fill="#800" d="M22 0h2v1h-2zM137 0h1v1h-1zM144 0h2v1h-2zM149 0h1v1h-1zM151 0h2v1h-2zM155 0h3v1h-3z"/>
<path fill="#b00" d="M24 0h1v1h-1zM27 0h3v1h-3zM44 0h2v1h-2zM72 0h2v1h-2zM75 0h2v1h-2zM77 0h2v1h-2zM79 0h3v1h-3zM82 0h3v1h-3zM85 0h1v1h-1zM86 0h3v1h-3zM89 0h2v1h-2z"/>
<path fill="#900" d="M25 0h2v1h-2zM30 0h3v1h-3zM41 0h3v1h-3zM147 0h1v1h-1z"/>
<path fill="#c00" d="M33 0h2v1h-2zM68 0h1v1h-1zM69 0h3v1h-3zM74 0h1v1h-1zM91 0h2v1h-2z"/>
<path fill="#a00" d="M35 0h1v1h-1zM36 0h2v1h-2zM38 0h3v1h-3zM67 0h1v1h-1zM103 0h1v1h-1z"/>
<path fill="#f00" d="M46 0h2v1h-2zM48 0h3v1h-3zM52 0h2v1h-2zM54 0h1v1h-1z"/>
<path fill="#e00" d="M51 0h1v1h-1z"/>
<path fill="#d00" d="M55 0h3v1h-3zM58 0h3v1h-3zM61 0h1v1h-1zM62 0h3v1h-3zM65 0h2v1h-2z"/>
<path fill="#400" d="M93 0h2v1h-2zM95 0h2v1h-2zM97 0h3v1h-3zM101 0h1v1h-1zM102 0h1v1h-1zM113 0h1v1h-1zM114 0h3v1h-3zM117 0h1v1h-1zM119 0h3v1h-3zM122 0h1v1h-1zM123 0h3v1h-3zM126 0h2v1h-2zM170 0h1v1h-1zM171 0h3v1h-3zM174 0h2v1h-2zM177 0h3v1h-3z"/>
<path fill="#300" d="M118 0h1v1h-1zM128 0h1v1h-1zM129 0h3v1h-3zM132 0h2v1h-2zM134 0h1v1h-1zM176 0h1v1h-1zM180 0h2v1h-2zM182 0h1v1h-1zM183 0h3v1h-3zM186 0h1v1h-1zM187 0h3v1h-3zM267 0h1v1h-1zM294 0h3v1h-3z"/>
<path fill="#000" d="M159 0h3v1h-3zM162 0h3v1h-3zM209 0h1v1h-1zM210 0h2v1h-2zM212 0h2v1h-2zM214 0h1v1h-1zM215 0h1v1h-1zM216 0h3v1h-3zM219 0h2v1h-2zM221 0h2v1h-2zM223 0h1v1h-1zM224 0h1v1h-1zM225 0h2v1h-2zM227 0h1v1h-1zM228 0h3v1h-3zM231 0h1v1h-1zM232 0h1v1h-1zM233 0h3v1h-3zM236 0h2v1h-2zM238 0h3v1h-3zM241 0h3v1h-3zM244 0h2v1h-2zM246 0h3v1h-3zM249 0h1v1h-1zM250 0h1v1h-1zM251 0h1v1h-1zM252 0h3v1h-3zM255 0h1v1h-1zM256 0h3v1h-3zM259 0h1v1h-1zM260 0h2v1h-2zM262 0h3v1h-3zM265 0h1v1h-1zM1019 0h1v1h-1zM1020 0h3v1h-3zM1023 0h1v1h-1zM1024 0h2v1h-2zM1026 0h1v1h-1z"/>
<path fill="#ccc" d="M165 0h1v1h-1z"/>
<path fill="#200" d="M190 0h2v1h-2zM192 0h1v1h-1zM193 0h1v1h-1zM194 0h2v1h-2zM196 0h3v1h-3zM266 0h1v1h-1zM268 0h1v1h-1zM269 0h3v1h-3zM272 0h3v1h-3zM275 0h1v1h-1zM276 0h1v1h-1zM277 0h2v1h-2zM279 0h3v1h-3zM282 0h2v1h-2zM284 0h2v1h-2zM286 0h1v1h-1zM287 0h2v1h-2zM289 0h1v1h-1zM290 0h2v1h-2zM292 0h2v1h-2zM297 0h1v1h-1zM298 0h1v1h-1zM299 0h1v1h-1zM300 0h3v1h-3z"/>
<path fill="#100" d="M199 0h3v1h-3zM202 0h1v1h-1zM203 0h3v1h-3zM206 0h3v1h-3z"/>
<path fill="#020" d="M303 0h3v1h-3zM306 0h1v1h-1zM307 0h2v1h-2zM309 0h2v1h-2zM345 0h3v1h-3zM348 0h2v1h-2zM350 0h3v1h-3zM353 0h2v1h-2zM355 0h1v1h-1zM356 0h2v1h-2zM358 0h2v1h-2zM363 0h3v1h-3zM366 0h2v1h-2zM368 0h2v1h-2zM370 0h1v1h-1zM371 0h1v1h-1zM1039 0h2v1h-2zM1043 0h2v1h-2zM1045 0h1v1h-1z"/>
<path fill="#030" d="M311 0h1v1h-1zM313 0h1v1h-1zM325 0h2v1h-2zM331 0h2v1h-2zM334 0h1v1h-1zM337 0h2v1h-2zM509 0h2v1h-2zM536 0h1v1h-1zM537 0h3v1h-3zM991 0h3v1h-3zM994 0h3v1h-3zM998 0h2v1h-2zM1000 0h1v1h-1zM1001 0h1v1h-1zM1002 0h3v1h-3zM1005 0h3v1h-3zM1008 0h1v1h-1zM1012 0h2v1h-2zM1014 0h3v1h-3zM1027 0h1v1h-1zM1028 0h2v1h-2zM1030 0h2v1h-2zM1032 0h1v1h-1zM1033 0h1v1h-1zM1034 0h2v1h-2zM1036 0h1v1h-1zM1037 0h2v1h-2zM1041 0h2v1h-2zM1046 0h1v1h-1z"/>
<path fill="#040" d="M312 0h1v1h-1zM314 0h2v1h-2zM316 0h1v1h-1zM317 0h2v1h-2zM319 0h2v1h-2zM321 0h2v1h-2zM323 0h2v1h-2zM327 0h2v1h-2zM329 0h1v1h-1zM330 0h1v1h-1zM333 0h1v1h-1zM335 0h1v1h-1zM336 0h1v1h-1zM498 0h3v1h-3zM501 0h2v1h-2zM506 0h1v1h-1zM507 0h2v1h-2zM515 0h1v1h-1zM518 0h1v1h-1zM519 0h2v1h-2zM524 0h3v1h-3zM532 0h3v1h-3zM540 0h3v1h-3zM545 0h2v1h-2zM985 0h3v1h-3zM988 0h3v1h-3zM997 0h1v1h-1zM1009 0h3v1h-3zM1017 0h2v1h-2z"/>
<path fill="#050" d="M339 0h1v1h-1zM340 0h1v1h-1zM372 0h2v1h-2zM374 0h2v1h-2zM418 0h2v1h-2zM424 0h3v1h-3zM436 0h1v1h-1zM503 0h3v1h-3zM511 0h1v1h-1zM512 0h1v1h-1zM513 0h2v1h-2zM516 0h1v1h-1zM517 0h1v1h-1zM521 0h3v1h-3zM527 0h2v1h-2zM535 0h1v1h-1zM543 0h2v1h-2zM554 0h1v1h-1zM564 0h3v1h-3zM567 0h2v1h-2z"/>
<path fill="#010" d="M341 0h3v1h-3zM344 0h1v1h-1zM360 0h3v1h-3z"/>
<path fill="#090" d="M376 0h4v1h-4zM610 0h1v1h-1zM613 0h3v1h-3zM616 0h2v1h-2zM618 0h2v1h-2zM627 0h1v1h-1zM631 0h1v1h-1zM636 0h3v1h-3zM648 0h3v1h-3zM651 0h1v1h-1zM652 0h3v1h-3zM656 0h2v1h-2zM673 0h1v1h-1zM674 0h1v1h-1zM675 0h1v1h-1zM677 0h1v1h-1zM681 0h3v1h-3zM688 0h1v1h-1zM689 0h3v1h-3zM692 0h3v1h-3zM696 0h1v1h-1zM697 0h3v1h-3zM701 0h2v1h-2zM711 0h2v1h-2zM719 0h2v1h-2zM721 0h1v1h-1zM722 0h3v1h-3zM735 0h1v1h-1zM739 0h2v1h-2zM752 0h3v1h-3zM755 0h3v1h-3zM758 0h1v1h-1zM759 0h1v1h-1zM760 0h1v1h-1zM769 0h3v1h-3zM776 0h3v1h-3zM780 0h2v1h-2zM795 0h1v1h-1zM885 0h2v1h-2zM889 0h2v1h-2zM891 0h3v1h-3zM903 0h1v1h-1zM906 0h1v1h-1zM908 0h3v1h-3zM913 0h3v1h-3zM918 0h1v1h-1zM919 0h1v1h-1zM935 0h3v1h-3zM941 0h2v1h-2zM943 0h2v1h-2zM950 0h3v1h-3zM953 0h3v1h-3zM956 0h1v1h-1zM963 0h2v1h-2zM966 0h2v1h-2z"/>
<path fill="#070" d="M380 0h4v1h-4zM394 0h3v1h-3zM423 0h1v1h-1zM427 0h1v1h-1zM428 0h2v1h-2zM433 0h3v1h-3zM443 0h3v1h-3zM446 0h3v1h-3zM451 0h1v1h-1zM453 0h2v1h-2zM458 0h3v1h-3zM474 0h3v1h-3zM477 0h3v1h-3zM482 0h2v1h-2zM490 0h2v1h-2zM492 0h2v1h-2zM569 0h3v1h-3zM572 0h1v1h-1zM578 0h3v1h-3zM588 0h2v1h-2zM592 0h1v1h-1zM593 0h3v1h-3zM882 0h3v1h-3zM894 0h2v1h-2zM896 0h3v1h-3zM900 0h2v1h-2zM904 0h2v1h-2zM916 0h2v1h-2zM922 0h1v1h-1z"/>
<path fill="#080" d="M384 0h3v1h-3zM387 0h3v1h-3zM390 0h4v1h-4zM397 0h4v1h-4zM401 0h3v1h-3zM404 0h4v1h-4zM408 0h4v1h-4zM639 0h2v1h-2zM647 0h1v1h-1zM655 0h1v1h-1zM658 0h3v1h-3zM666 0h2v1h-2zM881 0h1v1h-1zM887 0h2v1h-2zM902 0h1v1h-1zM920 0h2v1h-2zM923 0h2v1h-2zM928 0h1v1h-1zM938 0h3v1h-3zM945 0h1v1h-1zM946 0h1v1h-1zM957 0h3v1h-3zM965 0h1v1h-1zM968 0h2v1h-2zM973 0h1v1h-1zM974 0h2v1h-2zM979 0h1v1h-1zM984 0h1v1h-1z"/>
<path fill="#060" d="M412 0h2v1h-2zM414 0h2v1h-2zM416 0h2v1h-2zM420 0h3v1h-3zM430 0h1v1h-1zM431 0h2v1h-2zM437 0h2v1h-2zM439 0h2v1h-2zM441 0h1v1h-1zM442 0h1v1h-1zM449 0h2v1h-2zM452 0h1v1h-1zM455 0h3v1h-3zM461 0h2v1h-2zM463 0h3v1h-3zM466 0h1v1h-1zM467 0h2v1h-2zM469 0h2v1h-2zM471 0h1v1h-1zM472 0h2v1h-2zM480 0h2v1h-2zM484 0h1v1h-1zM485 0h3v1h-3zM488 0h2v1h-2zM494 0h2v1h-2zM496 0h2v1h-2zM529 0h3v1h-3zM547 0h3v1h-3zM550 0h1v1h-1zM551 0h3v1h-3zM555 0h2v1h-2zM557 0h2v1h-2zM559 0h2v1h-2zM561 0h3v1h-3zM573 0h2v1h-2zM575 0h1v1h-1zM576 0h2v1h-2zM581 0h2v1h-2zM583 0h3v1h-3zM586 0h2v1h-2zM590 0h2v1h-2zM596 0h2v1h-2zM598 0h2v1h-2zM600 0h2v1h-2zM602 0h3v1h-3zM605 0h3v1h-3zM911 0h2v1h-2zM960 0h3v1h-3z"/>
<path fill="#0a0" d="M608 0h1v1h-1zM609 0h1v1h-1zM611 0h2v1h-2zM620 0h3v1h-3zM623 0h2v1h-2zM625 0h2v1h-2zM628 0h3v1h-3zM632 0h2v1h-2zM634 0h2v1h-2zM641 0h3v1h-3zM644 0h3v1h-3zM661 0h3v1h-3zM664 0h2v1h-2zM668 0h3v1h-3zM671 0h1v1h-1zM672 0h1v1h-1zM676 0h1v1h-1zM678 0h3v1h-3zM684 0h2v1h-2zM686 0h2v1h-2zM706 0h3v1h-3zM709 0h2v1h-2zM713 0h2v1h-2zM715 0h3v1h-3zM718 0h1v1h-1zM725 0h3v1h-3zM728 0h3v1h-3zM731 0h2v1h-2zM733 0h2v1h-2zM736 0h1v1h-1zM741 0h2v1h-2zM743 0h3v1h-3zM746 0h2v1h-2zM748 0h1v1h-1zM749 0h3v1h-3zM761 0h3v1h-3zM764 0h3v1h-3zM767 0h2v1h-2zM772 0h1v1h-1zM782 0h3v1h-3zM786 0h1v1h-1zM787 0h1v1h-1zM788 0h1v1h-1zM789 0h3v1h-3zM793 0h1v1h-1zM794 0h1v1h-1zM797 0h3v1h-3zM800 0h2v1h-2zM802 0h3v1h-3zM805 0h3v1h-3zM808 0h1v1h-1zM809 0h2v1h-2zM811 0h2v1h-2zM813 0h1v1h-1zM814 0h3v1h-3zM817 0h3v1h-3zM820 0h3v1h-3zM829 0h2v1h-2zM831 0h2v1h-2zM835 0h2v1h-2zM837 0h1v1h-1zM843 0h3v1h-3zM849 0h3v1h-3zM852 0h2v1h-2zM854 0h1v1h-1zM855 0h1v1h-1zM859 0h3v1h-3zM862 0h1v1h-1zM863 0h3v1h-3zM869 0h2v1h-2zM874 0h1v1h-1zM875 0h2v1h-2zM877 0h2v1h-2zM879 0h2v1h-2zM899 0h1v1h-1zM907 0h1v1h-1zM925 0h3v1h-3zM929 0h1v1h-1zM931 0h2v1h-2zM933 0h2v1h-2zM947 0h3v1h-3zM970 0h2v1h-2zM972 0h1v1h-1zM980 0h1v1h-1zM981 0h3v1h-3z"/>
<path fill="#0b0" d="M695 0h1v1h-1zM700 0h1v1h-1zM703 0h3v1h-3zM737 0h2v1h-2zM773 0h2v1h-2zM775 0h1v1h-1zM779 0h1v1h-1zM785 0h1v1h-1zM792 0h1v1h-1zM796 0h1v1h-1zM823 0h1v1h-1zM824 0h3v1h-3zM827 0h2v1h-2zM833 0h2v1h-2zM838 0h2v1h-2zM840 0h3v1h-3zM846 0h3v1h-3zM856 0h1v1h-1zM857 0h2v1h-2zM866 0h3v1h-3zM871 0h3v1h-3zM930 0h1v1h-1zM976 0h3v1h-3z"/>
</svg>
<rect x="413.0" y="2303.4" width="1048.2" height="5.8" fill="#ffee00"/>
<path fill="#e8d800" d="M520.0 2303.4h2v5.8h-2z"/>
<path fill="#d8cc00" d="M522.5 2303.4h1v5.8h-1z"/>
<path fill="#ffd800" d="M585.6 2303.4h1v5.8h-1zM614.1 2303.4h2v5.8h-2z"/>
<path fill="#e0c800" d="M588.4 2303.4h1v5.8h-1zM592.2 2303.4h1v5.8h-1zM606.9 2303.4h1v5.8h-1zM608.8 2303.4h2v5.8h-2zM619.8 2303.4h1v5.8h-1zM636.9 2303.4h1v5.8h-1z"/>
<path fill="#d0c000" d="M590.5 2303.4h2v5.8h-2zM616.7 2303.4h2v5.8h-2zM645.0 2303.4h1v5.8h-1z"/>
<path fill="#c8b800" d="M660.0 2303.4h1v5.8h-1zM687.4 2303.4h1v5.8h-1z"/>
<path fill="#e0d000" d="M670.0 2303.4h1v5.8h-1zM673.0 2303.4h1v5.8h-1zM676.1 2303.4h2v5.8h-2zM678.5 2303.4h1v5.8h-1zM684.1 2303.4h1v5.8h-1zM689.7 2303.4h2v5.8h-2z"/>
<path fill="#ffdd00" d="M731.2 2303.4h1v5.8h-1zM756.0 2303.4h1v5.8h-1zM774.5 2303.4h1v5.8h-1zM1085.5 2303.4h2v5.8h-2zM1108.7 2303.4h2v5.8h-2zM1125.6 2303.4h1v5.8h-1zM1131.0 2303.4h2v5.8h-2zM1136.6 2303.4h1v5.8h-1zM1150.0 2303.4h1v5.8h-1zM1162.2 2303.4h1v5.8h-1zM1191.3 2303.4h1v5.8h-1zM1210.7 2303.4h2v5.8h-2zM1213.9 2303.4h2v5.8h-2zM1215.5 2303.4h1v5.8h-1zM1238.8 2303.4h2v5.8h-2zM1282.9 2303.4h1v5.8h-1z"/>
<path fill="#c0b000" d="M742.5 2303.4h1v5.8h-1z"/>
<path fill="#d8c800" d="M748.8 2303.4h1v5.8h-1zM763.3 2303.4h2v5.8h-2zM771.8 2303.4h1v5.8h-1zM785.4 2303.4h1v5.8h-1z"/>
<path fill="#ff7700" d="M1026.9 2303.4h2v5.8h-2zM1042.2 2303.4h2v5.8h-2zM1059.0 2303.4h2v5.8h-2z"/>
<path fill="#ffcc00" d="M1044.8 2303.4h1v5.8h-1zM1046.4 2303.4h1v5.8h-1zM1049.5 2303.4h1v5.8h-1zM1057.2 2303.4h2v5.8h-2zM1064.5 2303.4h1v5.8h-1zM1066.1 2303.4h1v5.8h-1zM1296.0 2303.4h1v5.8h-1zM1314.9 2303.4h1v5.8h-1zM1319.8 2303.4h2v5.8h-2zM1340.1 2303.4h2v5.8h-2zM1373.2 2303.4h1v5.8h-1zM1375.5 2303.4h2v5.8h-2zM1378.8 2303.4h1v5.8h-1zM1390.8 2303.4h1v5.8h-1zM1392.5 2303.4h1v5.8h-1zM1416.8 2303.4h1v5.8h-1zM1440.6 2303.4h2v5.8h-2zM1448.4 2303.4h2v5.8h-2zM1453.2 2303.4h2v5.8h-2z"/>
<path fill="#ff5500" d="M1051.5 2303.4h1v5.8h-1zM1054.7 2303.4h2v5.8h-2z"/>
<path fill="#ffaa00" d="M1074.5 2303.4h2v5.8h-2zM1311.8 2303.4h2v5.8h-2zM1316.6 2303.4h1v5.8h-1zM1337.3 2303.4h2v5.8h-2zM1364.0 2303.4h1v5.8h-1zM1398.8 2303.4h1v5.8h-1z"/>
<path fill="#ff9900" d="M1302.3 2303.4h1v5.8h-1zM1322.1 2303.4h1v5.8h-1zM1347.7 2303.4h1v5.8h-1zM1350.6 2303.4h1v5.8h-1zM1358.1 2303.4h1v5.8h-1zM1367.3 2303.4h1v5.8h-1zM1371.1 2303.4h2v5.8h-2zM1380.7 2303.4h1v5.8h-1z"/>
<path fill="#ff8800" d="M1405.7 2303.4h2v5.8h-2zM1419.0 2303.4h2v5.8h-2zM1431.0 2303.4h1v5.8h-1zM1443.9 2303.4h1v5.8h-1zM1451.3 2303.4h1v5.8h-1z"/>
<path d="M544.3 1800.9V1709.6H943.0V1755.6M483.4 1837.4V1800.9H604.8V1826.1M442.6 1862.1V1837.4H525.2V1855.5M424.6 1873.0V1862.1H462.5V1870.0M417.9 1878.4V1873.0H431.2V1878.4M447.0 1875.9V1870.0H476.7V1873.0M467.6 1878.4V1873.0H487.5V1878.4M441.2 1878.4V1875.9H452.0V1878.4M515.0 1867.0V1855.5H535.3V1867.0M509.4 1872.7V1867.0H519.8V1872.0M516.6 1878.4V1872.0H523.0V1878.4M531.9 1871.3V1867.0H538.4V1872.5M578.2 1856.6V1826.1H631.3V1849.0M560.1 1871.4V1856.6H597.6V1864.6M549.8 1878.4V1871.4H569.6V1878.4M589.4 1872.0V1864.6H605.8V1872.0M582.8 1878.4V1872.0H593.8V1878.4M602.2 1878.4V1872.0H609.2V1878.4M623.3 1868.0V1849.0H638.7V1860.6M618.5 1873.5V1868.0H628.4V1872.2M635.0 1874.0V1860.6H643.1V1867.0M640.4 1873.7V1867.0H645.3V1873.7M679.4 1797.2V1755.6H1206.4V1769.7M663.3 1847.7V1797.2H697.0V1827.3M655.0 1865.9V1847.7H671.4V1864.9M651.5 1872.0V1865.9H658.6V1871.1M666.5 1872.1V1864.9H675.3V1873.5M688.0 1860.0V1827.3H706.0V1849.7M684.6 1872.4V1860.0H691.2V1873.4M701.8 1872.0V1849.7H711.1V1864.9M708.3 1873.9V1864.9H713.7V1872.7M699.1 1878.4V1872.0H704.0V1878.4M984.6 1826.5V1769.7H1428.6V1810.6M820.3 1853.6V1826.5H1149.8V1850.5M750.1 1867.3V1853.6H890.8V1866.8M732.9 1875.0V1867.3H768.6V1872.0M723.4 1878.4V1875.0H742.7V1878.4M762.1 1878.4V1872.0H775.0V1878.4M827.6 1874.5V1866.8H953.2V1872.0M797.7 1878.4V1874.5H856.9V1878.4M926.8 1878.4V1872.0H978.9V1875.0M960.3 1878.4V1875.0H995.8V1878.4M1051.6 1867.3V1850.5H1247.4V1865.7M1038.4 1874.5V1867.3H1064.7V1872.5M1030.0 1878.4V1874.5H1042.1V1878.4M1058.3 1878.4V1872.5H1073.4V1878.4M1162.0 1873.3V1865.7H1333.3V1871.7M1104.6 1878.4V1873.3H1219.6V1878.4M1303.7 1878.4V1871.7H1362.9V1874.6M1343.3 1878.4V1874.6H1380.9V1878.4M1414.2 1856.9V1810.6H1441.8V1832.9M1407.4 1870.5V1856.9H1422.0V1865.7M1403.4 1878.4V1870.5H1411.3V1878.4M1417.4 1872.5V1865.7H1425.4V1872.5M1433.8 1861.3V1832.9H1450.2V1853.8M1430.4 1872.7V1861.3H1437.0V1871.1M1444.9 1868.2V1853.8H1455.6V1865.7M1442.2 1871.5V1868.2H1447.0V1873.1M1452.4 1873.1V1865.7H1458.9V1871.8M507.7 1878.4V1872.7H511.0V1878.4M530.3 1878.4V1871.3H533.5V1878.4M536.8 1878.4V1872.5H540.1V1878.4M616.8 1878.4V1873.5H620.1V1878.4M626.6 1878.4V1872.2H630.2V1878.4M638.9 1878.4V1873.7H641.9V1878.4M643.5 1878.4V1873.7H647.1V1878.4M650.2 1878.4V1872.0H652.8V1878.4M656.7 1878.4V1871.1H660.5V1878.4M664.8 1878.4V1872.1H668.2V1878.4M674.0 1878.4V1873.5H676.6V1878.4M683.3 1878.4V1872.4H685.9V1878.4M689.7 1878.4V1873.4H692.6V1878.4M706.7 1878.4V1873.9H709.9V1878.4M711.8 1878.4V1872.7H715.5V1878.4M1415.7 1878.4V1872.5H1419.1V1878.4M1423.7 1878.4V1872.5H1427.1V1878.4M1428.9 1878.4V1872.7H1431.8V1878.4M1435.1 1878.4V1871.1H1439.0V1878.4M1440.5 1878.4V1871.5H1444.0V1878.4M1445.6 1878.4V1873.1H1448.5V1878.4M1451.1 1878.4V1873.1H1453.8V1878.4M1457.3 1878.4V1871.8H1460.4V1878.4" fill="none" stroke="#0a0a0a" stroke-width="1.30" stroke-linejoin="miter"/>
<path d="M415.4 1878.4V1875.1H417.6V1878.4M422.5 1878.4V1876.7H425.2V1878.4M443.6 1878.4V1874.0H446.3V1878.4M475.3 1878.4V1874.2H477.7V1878.4M484.1 1878.4V1876.6H487.2V1878.4M497.0 1878.4V1875.6H499.6V1878.4M543.7 1878.4V1874.2H545.8V1878.4M559.7 1878.4V1873.6H562.8V1878.4M569.4 1878.4V1876.6H571.8V1878.4M579.1 1878.4V1874.0H581.1V1878.4M587.6 1878.4V1875.6H590.7V1878.4M595.2 1878.4V1874.9H598.0V1878.4M602.9 1878.4V1875.2H606.1V1878.4M618.3 1878.4V1876.9H620.9V1878.4M636.6 1878.4V1874.4H639.4V1878.4M641.8 1878.4V1873.6H644.7V1878.4M648.9 1878.4V1875.8H651.6V1878.4M655.2 1878.4V1874.9H657.6V1878.4M661.4 1878.4V1876.8H664.4V1878.4M686.7 1878.4V1876.3H689.7V1878.4M694.8 1878.4V1875.4H697.9V1878.4M716.4 1878.4V1875.7H719.4V1878.4M1401.8 1878.4V1876.0H1404.8V1878.4M1433.3 1878.4V1875.7H1435.6V1878.4M1451.4 1878.4V1874.9H1454.5V1878.4M721.2 1878.4V1875.6H744.1V1878.4M760.2 1878.4V1877.3H780.6V1878.4M801.6 1878.4V1876.0H826.7V1878.4M837.8 1878.4V1876.6H853.2V1878.4M873.4 1878.4V1876.0H887.9V1878.4M910.1 1878.4V1875.9H946.5V1878.4M950.9 1878.4V1875.8H981.2V1878.4M986.5 1878.4V1877.2H1004.4V1878.4M1019.0 1878.4V1876.7H1042.2V1878.4M1061.5 1878.4V1877.7H1070.2V1878.4M1077.0 1878.4V1877.7H1089.9V1878.4M1113.1 1878.4V1877.7H1151.1V1878.4M1165.2 1878.4V1877.1H1184.7V1878.4M1195.8 1878.4V1876.5H1226.7V1878.4M1238.0 1878.4V1877.1H1253.2V1878.4M1259.9 1878.4V1876.1H1287.7V1878.4M1299.4 1878.4V1877.4H1310.7V1878.4M1322.3 1878.4V1876.0H1351.7V1878.4M1363.4 1878.4V1876.4H1399.6V1878.4" fill="none" stroke="#000" stroke-width="1.1"/>
<polygon points="412.7,1878.1 414.3,1877.8 418.0,1874.8 421.7,1877.8 423.9,1877.8 428.3,1874.8 432.7,1877.8 435.2,1877.8 437.6,1875.3 440.1,1877.8 442.6,1877.8 446.4,1874.5 450.2,1877.8 450.8,1877.8 454.1,1875.7 457.5,1877.8 459.1,1877.8 462.7,1876.2 466.3,1877.8 467.2,1877.8 470.1,1874.4 473.1,1877.8 475.3,1877.8 478.0,1874.7 480.7,1877.8 481.3,1877.8 485.0,1876.0 488.7,1877.8 489.1,1877.8 493.3,1875.8 497.5,1877.8 498.4,1877.8 502.9,1874.5 507.4,1877.8 508.4,1877.8 512.8,1875.2 517.2,1877.8 519.2,1877.8 522.0,1874.4 524.8,1877.8 526.8,1877.8 531.2,1874.5 535.7,1877.8 536.7,1877.8 539.8,1875.9 543.0,1877.8 543.6,1877.8 546.2,1875.6 548.7,1877.8 550.4,1877.8 552.8,1874.9 555.2,1877.8 556.3,1877.8 559.3,1874.6 562.4,1877.8 563.8,1877.8 566.9,1875.3 569.9,1877.8 571.9,1877.8 574.4,1874.3 576.9,1877.8 577.3,1877.8 581.3,1874.6 585.3,1877.8 585.6,1877.8 589.7,1875.5 593.7,1877.8 595.4,1877.8 597.8,1876.1 600.2,1877.8 601.0,1877.8 605.4,1875.8 609.8,1877.8 611.9,1877.8 616.3,1874.4 620.7,1877.8 621.8,1877.8 625.0,1875.2 628.1,1877.8 630.2,1877.8 632.9,1874.8 635.5,1877.8 637.7,1877.8 641.9,1876.2 646.1,1877.8 648.7,1877.8 651.2,1875.6 653.8,1877.8 655.6,1877.8 659.9,1875.6 664.3,1877.8 666.8,1877.8 670.3,1875.6 673.9,1877.8 674.9,1877.8 677.7,1876.1 680.4,1877.8 681.1,1877.8 685.0,1874.3 688.8,1877.8 689.5,1877.8 692.0,1874.3 694.5,1877.8 696.1,1877.8 699.3,1875.8 702.6,1877.8 704.3,1877.8 708.4,1875.3 712.6,1877.8 713.9,1877.8 716.4,1874.4 718.9,1877.8 719.3,1877.8 722.7,1874.6 726.1,1877.8 726.8,1878.5 739.3,1877.3 751.7,1878.5 757.6,1878.5 770.6,1878.2 783.6,1878.5 788.0,1878.5 794.8,1877.4 801.6,1878.5 804.9,1878.5 814.7,1877.2 824.5,1878.5 832.0,1878.5 846.8,1877.8 861.7,1878.5 866.4,1878.5 878.9,1877.8 891.3,1878.5 894.6,1878.5 903.9,1878.1 913.2,1878.5 917.1,1878.5 932.1,1877.2 947.0,1878.5 952.9,1878.5 963.1,1877.9 973.3,1878.5 975.0,1878.5 983.1,1877.4 991.1,1878.5 998.7,1878.5 1007.6,1877.4 1016.5,1878.5 1023.4,1878.5 1035.5,1877.6 1047.6,1878.5 1054.4,1878.5 1063.3,1877.5 1072.3,1878.5 1075.4,1878.5 1085.5,1877.4 1095.6,1878.5 1101.9,1878.5 1110.2,1877.3 1118.4,1878.5 1124.4,1878.5 1135.4,1878.3 1146.4,1878.5 1151.6,1878.5 1159.4,1877.6 1167.2,1878.5 1171.8,1878.5 1185.1,1877.6 1198.4,1878.5 1205.5,1878.5 1214.2,1877.6 1223.0,1878.5 1229.6,1878.5 1243.0,1877.9 1256.4,1878.5 1263.9,1878.5 1277.7,1877.5 1291.5,1878.5 1299.9,1878.5 1314.6,1877.7 1329.3,1878.5 1334.3,1878.5 1341.3,1877.4 1348.3,1878.5 1356.5,1878.5 1366.5,1877.5 1376.5,1878.5 1383.0,1878.5 1395.4,1878.1 1407.9,1878.5 1414.9,1877.8 1418.5,1874.9 1422.1,1877.8 1423.4,1877.8 1427.1,1874.7 1430.9,1877.8 1432.7,1877.8 1436.6,1876.2 1440.5,1877.8 1441.2,1877.8 1444.5,1875.0 1447.9,1877.8 1448.7,1877.8 1452.6,1875.0 1456.4,1877.8 1456.8,1877.8 1460.2,1875.8 1462.3,1877.9 1462.3,1882.5 412.7,1882.5" fill="#000"/>
<path d="M407.7 1982.5H156.5V2172.1H407.7" fill="none" stroke="#222" stroke-width="1.6"/>
<rect x="412.2" y="1816.9" width="93.8" height="525.5" rx="14" ry="14" fill="none" stroke="#e8262d" stroke-width="1.8"/>
<rect x="506.0" y="1816.9" width="42.2" height="590.0" rx="6" ry="6" fill="none" stroke="#9b59c6" stroke-width="1.8"/>
<rect x="548.6" y="1818.8" width="98.2" height="526.2" rx="13" ry="13" fill="none" stroke="#ee2a30" stroke-width="1.8"/>
<rect x="646.9" y="1816.9" width="78.1" height="590.0" rx="13" ry="13" fill="none" stroke="#2b4a8c" stroke-width="1.8"/>
<rect x="724.6" y="1816.9" width="65.4" height="525.5" rx="8" ry="8" fill="none" stroke="#f5b52a" stroke-width="1.8"/>
<rect x="790.6" y="1816.9" width="234.4" height="590.0" rx="38" ry="38" fill="none" stroke="#2088cc" stroke-width="1.8"/>
<rect x="1021.5" y="1810.9" width="57.1" height="525.6" rx="8" ry="8" fill="none" stroke="#fff02a" stroke-width="1.8"/>
<rect x="1082.7" y="1811.0" width="211.6" height="590.0" rx="33" ry="33" fill="none" stroke="#22b8f0" stroke-width="1.8"/>
<rect x="1296.6" y="1817.8" width="100.9" height="525.3" rx="16" ry="16" fill="none" stroke="#8ccc52" stroke-width="1.8"/>
<rect x="1399.5" y="1817.8" width="62.1" height="589.8" rx="9" ry="9" fill="none" stroke="#1fa850" stroke-width="1.8"/>
<path d="M646.9 1832V2330" stroke="#8a2a6e" stroke-width="1.8"/>
<path d="M506 1832V2330" stroke="#c8305a" stroke-width="1.8"/>
<text transform="translate(458.2 2436.0) scale(0.8 1)" font-size="23" font-weight="700" text-anchor="middle" fill="#e8262d" stroke="#e8262d" stroke-width="0.4">1</text>
<text transform="translate(525.2 2474.6) scale(0.8 1)" font-size="23" font-weight="700" text-anchor="middle" fill="#7a3fa8" stroke="#7a3fa8" stroke-width="0.4">2</text>
<text transform="translate(579.4 2436.0) scale(0.8 1)" font-size="23" font-weight="700" text-anchor="middle" fill="#ee2a30" stroke="#ee2a30" stroke-width="0.4">3</text>
<text transform="translate(691.0 2474.6) scale(0.8 1)" font-size="23" font-weight="700" text-anchor="middle" fill="#1f3a78" stroke="#1f3a78" stroke-width="0.4">4</text>
<text transform="translate(753.2 2436.0) scale(0.8 1)" font-size="23" font-weight="700" text-anchor="middle" fill="#f5b52a" stroke="#f5b52a" stroke-width="0.4">5</text>
<text transform="translate(899.0 2459.2) scale(0.8 1)" font-size="23" font-weight="700" text-anchor="middle" fill="#2078c0" stroke="#2078c0" stroke-width="0.4">6</text>
<text transform="translate(1048.7 2427.8) scale(0.8 1)" font-size="23" font-weight="700" text-anchor="middle" fill="#fff02a" stroke="#fff02a" stroke-width="0.4">7</text>
<text transform="translate(1188.2 2454.7) scale(0.8 1)" font-size="23" font-weight="700" text-anchor="middle" fill="#22b0f0" stroke="#22b0f0" stroke-width="0.4">8</text>
<text transform="translate(1352.2 2436.0) scale(0.8 1)" font-size="23" font-weight="700" text-anchor="middle" fill="#8ccc52" stroke="#8ccc52" stroke-width="0.4">9</text>
<text transform="translate(1438.7 2472.0) scale(0.8 1)" font-size="23" font-weight="700" text-anchor="middle" fill="#1fa850" stroke="#1fa850" stroke-width="0.4">10</text>
</svg></body></html>
